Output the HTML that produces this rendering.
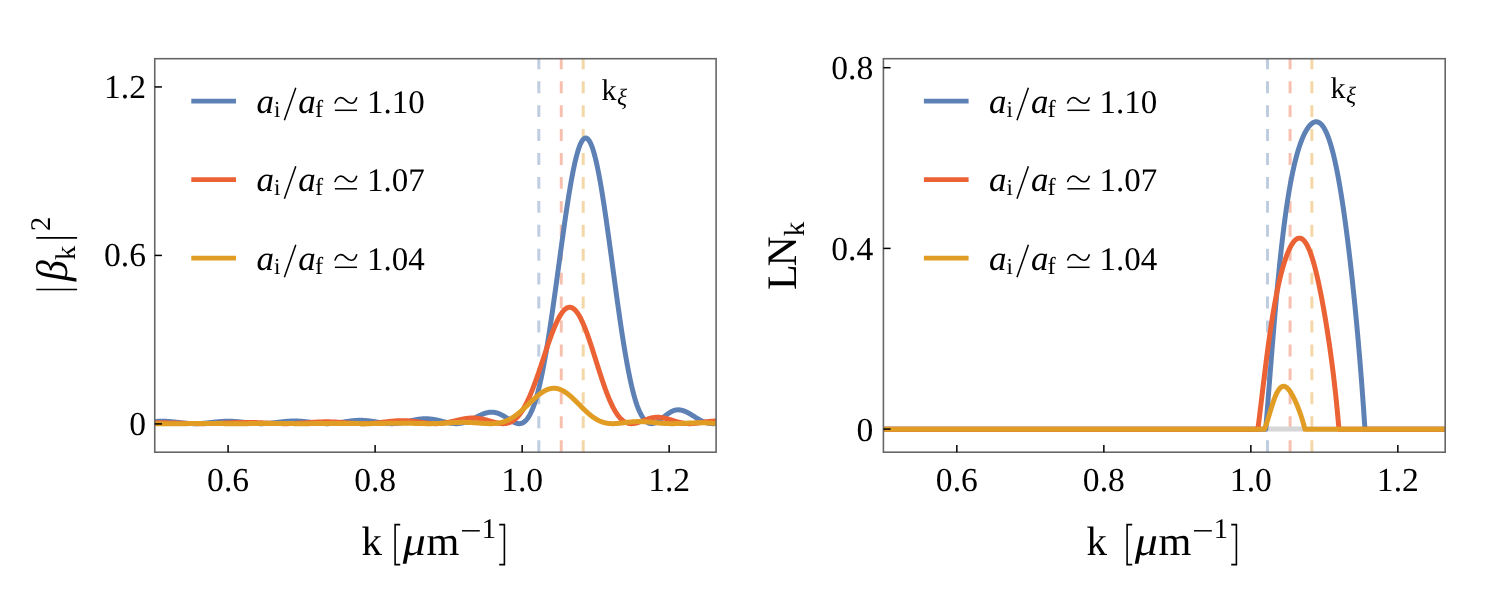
<!DOCTYPE html>
<html><head><meta charset="utf-8"><title>plot</title>
<style>
html,body{margin:0;padding:0;background:#fff;}
body{width:1495px;height:601px;overflow:hidden;}
svg{display:block;will-change:transform;}
text{font-family:"Liberation Serif",serif;fill:#000;text-rendering:geometricPrecision;}
.it{font-style:italic;}
</style></head><body>
<svg width="1495" height="601" viewBox="0 0 1495 601">
<rect x="0" y="0" width="1495" height="601" fill="#fff"/>
<defs><clipPath id="cl"><rect x="154.75" y="58.70" width="561.35" height="393.50"/></clipPath><clipPath id="cr"><rect x="883.40" y="58.70" width="561.80" height="393.50"/></clipPath></defs>
<g clip-path="url(#cl)" fill="none">
<line x1="538.80" y1="452.10" x2="538.80" y2="53.70" stroke="#5E81B5" stroke-opacity="0.4" stroke-width="3.0" stroke-dasharray="11.9 12.03"/>
<line x1="561.25" y1="452.10" x2="561.25" y2="53.70" stroke="#EB6235" stroke-opacity="0.4" stroke-width="3.0" stroke-dasharray="11.9 12.03"/>
<line x1="583.20" y1="452.10" x2="583.20" y2="53.70" stroke="#E19C24" stroke-opacity="0.4" stroke-width="3.0" stroke-dasharray="11.9 12.03"/>
<path d="M154.59,421.55 L154.94,421.53 L155.29,421.50 L155.64,421.48 L156.00,421.46 L156.35,421.44 L156.70,421.42 L157.05,421.40 L157.40,421.38 L157.75,421.36 L158.10,421.35 L158.46,421.33 L158.81,421.32 L159.16,421.31 L159.51,421.30 L159.86,421.29 L160.21,421.28 L160.56,421.28 L160.92,421.27 L161.27,421.27 L161.62,421.26 L161.97,421.26 L162.32,421.26 L162.67,421.27 L163.03,421.27 L163.38,421.27 L163.73,421.28 L164.08,421.29 L164.43,421.30 L164.78,421.31 L165.13,421.32 L165.49,421.33 L165.84,421.34 L166.19,421.36 L166.54,421.37 L166.89,421.39 L167.24,421.41 L167.59,421.43 L167.95,421.45 L168.30,421.47 L168.65,421.50 L169.00,421.52 L169.35,421.55 L169.70,421.57 L170.05,421.60 L170.41,421.63 L170.76,421.66 L171.11,421.69 L171.46,421.72 L171.81,421.75 L172.16,421.78 L172.51,421.81 L172.87,421.85 L173.22,421.88 L173.57,421.92 L173.92,421.95 L174.27,421.99 L174.62,422.03 L174.97,422.06 L175.33,422.10 L175.68,422.14 L176.03,422.18 L176.38,422.22 L176.73,422.26 L177.08,422.30 L177.43,422.34 L177.79,422.38 L178.14,422.42 L178.49,422.45 L178.84,422.49 L179.19,422.53 L179.54,422.57 L179.90,422.61 L180.25,422.65 L180.60,422.69 L180.95,422.73 L181.30,422.77 L181.65,422.81 L182.00,422.85 L182.36,422.88 L182.71,422.92 L183.06,422.96 L183.41,422.99 L183.76,423.03 L184.11,423.06 L184.46,423.10 L184.82,423.13 L185.17,423.16 L185.52,423.19 L185.87,423.22 L186.22,423.25 L186.57,423.28 L186.92,423.31 L187.28,423.34 L187.63,423.37 L187.98,423.39 L188.33,423.42 L188.68,423.44 L189.03,423.46 L189.38,423.48 L189.74,423.50 L190.09,423.52 L190.44,423.54 L190.79,423.55 L191.14,423.57 L191.49,423.58 L191.84,423.60 L192.20,423.61 L192.55,423.62 L192.90,423.63 L193.25,423.63 L193.60,423.64 L193.95,423.64 L194.30,423.65 L194.66,423.65 L195.01,423.65 L195.36,423.65 L195.71,423.65 L196.06,423.64 L196.41,423.64 L196.77,423.63 L197.12,423.63 L197.47,423.62 L197.82,423.61 L198.17,423.60 L198.52,423.58 L198.87,423.57 L199.23,423.56 L199.58,423.54 L199.93,423.52 L200.28,423.50 L200.63,423.48 L200.98,423.46 L201.33,423.44 L201.69,423.42 L202.04,423.39 L202.39,423.37 L202.74,423.34 L203.09,423.32 L203.44,423.29 L203.79,423.26 L204.15,423.23 L204.50,423.20 L204.85,423.17 L205.20,423.13 L205.55,423.10 L205.90,423.06 L206.25,423.03 L206.61,422.99 L206.96,422.96 L207.31,422.92 L207.66,422.88 L208.01,422.85 L208.36,422.81 L208.71,422.77 L209.07,422.73 L209.42,422.69 L209.77,422.65 L210.12,422.61 L210.47,422.57 L210.82,422.53 L211.18,422.49 L211.53,422.45 L211.88,422.41 L212.23,422.37 L212.58,422.33 L212.93,422.29 L213.28,422.25 L213.64,422.21 L213.99,422.17 L214.34,422.14 L214.69,422.10 L215.04,422.06 L215.39,422.02 L215.74,421.98 L216.10,421.95 L216.45,421.91 L216.80,421.88 L217.15,421.84 L217.50,421.81 L217.85,421.77 L218.20,421.74 L218.56,421.71 L218.91,421.68 L219.26,421.65 L219.61,421.62 L219.96,421.59 L220.31,421.56 L220.66,421.53 L221.02,421.51 L221.37,421.48 L221.72,421.46 L222.07,421.44 L222.42,421.42 L222.77,421.40 L223.12,421.38 L223.48,421.36 L223.83,421.34 L224.18,421.33 L224.53,421.32 L224.88,421.30 L225.23,421.29 L225.58,421.28 L225.94,421.27 L226.29,421.27 L226.64,421.26 L226.99,421.25 L227.34,421.25 L227.69,421.25 L228.05,421.25 L228.40,421.25 L228.75,421.25 L229.10,421.25 L229.45,421.26 L229.80,421.26 L230.15,421.27 L230.51,421.28 L230.86,421.29 L231.21,421.30 L231.56,421.31 L231.91,421.32 L232.26,421.33 L232.61,421.35 L232.97,421.36 L233.32,421.38 L233.67,421.40 L234.02,421.42 L234.37,421.44 L234.72,421.46 L235.07,421.48 L235.43,421.51 L235.78,421.53 L236.13,421.56 L236.48,421.59 L236.83,421.61 L237.18,421.64 L237.53,421.67 L237.89,421.71 L238.24,421.74 L238.59,421.77 L238.94,421.80 L239.29,421.84 L239.64,421.87 L239.99,421.91 L240.35,421.94 L240.70,421.98 L241.05,422.02 L241.40,422.06 L241.75,422.09 L242.10,422.13 L242.45,422.17 L242.81,422.21 L243.16,422.25 L243.51,422.29 L243.86,422.33 L244.21,422.37 L244.56,422.41 L244.92,422.45 L245.27,422.49 L245.62,422.53 L245.97,422.57 L246.32,422.61 L246.67,422.65 L247.02,422.69 L247.38,422.73 L247.73,422.77 L248.08,422.81 L248.43,422.85 L248.78,422.89 L249.13,422.93 L249.48,422.96 L249.84,423.00 L250.19,423.03 L250.54,423.07 L250.89,423.10 L251.24,423.14 L251.59,423.17 L251.94,423.20 L252.30,423.23 L252.65,423.26 L253.00,423.29 L253.35,423.32 L253.70,423.35 L254.05,423.38 L254.40,423.40 L254.76,423.43 L255.11,423.45 L255.46,423.47 L255.81,423.49 L256.16,423.51 L256.51,423.53 L256.86,423.55 L257.22,423.56 L257.57,423.58 L257.92,423.59 L258.27,423.60 L258.62,423.61 L258.97,423.62 L259.32,423.63 L259.68,423.64 L260.03,423.64 L260.38,423.65 L260.73,423.65 L261.08,423.65 L261.43,423.65 L261.79,423.65 L262.14,423.64 L262.49,423.64 L262.84,423.63 L263.19,423.63 L263.54,423.62 L263.89,423.61 L264.25,423.60 L264.60,423.58 L264.95,423.57 L265.30,423.55 L265.65,423.53 L266.00,423.52 L266.35,423.50 L266.71,423.48 L267.06,423.45 L267.41,423.43 L267.76,423.41 L268.11,423.38 L268.46,423.35 L268.81,423.32 L269.17,423.30 L269.52,423.26 L269.87,423.23 L270.22,423.20 L270.57,423.17 L270.92,423.13 L271.27,423.10 L271.63,423.06 L271.98,423.03 L272.33,422.99 L272.68,422.95 L273.03,422.91 L273.38,422.87 L273.73,422.83 L274.09,422.79 L274.44,422.75 L274.79,422.71 L275.14,422.67 L275.49,422.62 L275.84,422.58 L276.20,422.54 L276.55,422.49 L276.90,422.45 L277.25,422.41 L277.60,422.36 L277.95,422.32 L278.30,422.28 L278.66,422.23 L279.01,422.19 L279.36,422.15 L279.71,422.10 L280.06,422.06 L280.41,422.02 L280.76,421.97 L281.12,421.93 L281.47,421.89 L281.82,421.85 L282.17,421.81 L282.52,421.77 L282.87,421.73 L283.22,421.69 L283.58,421.65 L283.93,421.62 L284.28,421.58 L284.63,421.55 L284.98,421.51 L285.33,421.48 L285.68,421.45 L286.04,421.41 L286.39,421.38 L286.74,421.35 L287.09,421.32 L287.44,421.30 L287.79,421.27 L288.14,421.25 L288.50,421.22 L288.85,421.20 L289.20,421.18 L289.55,421.16 L289.90,421.14 L290.25,421.12 L290.60,421.11 L290.96,421.09 L291.31,421.08 L291.66,421.07 L292.01,421.06 L292.36,421.05 L292.71,421.04 L293.07,421.04 L293.42,421.03 L293.77,421.03 L294.12,421.03 L294.47,421.03 L294.82,421.03 L295.17,421.03 L295.53,421.04 L295.88,421.04 L296.23,421.05 L296.58,421.05 L296.93,421.06 L297.28,421.07 L297.63,421.08 L297.99,421.10 L298.34,421.11 L298.69,421.13 L299.04,421.14 L299.39,421.16 L299.74,421.18 L300.09,421.20 L300.45,421.23 L300.80,421.25 L301.15,421.28 L301.50,421.30 L301.85,421.33 L302.20,421.36 L302.55,421.39 L302.91,421.42 L303.26,421.45 L303.61,421.48 L303.96,421.52 L304.31,421.55 L304.66,421.59 L305.01,421.63 L305.37,421.66 L305.72,421.70 L306.07,421.74 L306.42,421.78 L306.77,421.82 L307.12,421.86 L307.47,421.91 L307.83,421.95 L308.18,421.99 L308.53,422.04 L308.88,422.08 L309.23,422.12 L309.58,422.17 L309.94,422.21 L310.29,422.26 L310.64,422.30 L310.99,422.35 L311.34,422.39 L311.69,422.44 L312.04,422.48 L312.40,422.53 L312.75,422.57 L313.10,422.62 L313.45,422.66 L313.80,422.70 L314.15,422.75 L314.50,422.79 L314.86,422.83 L315.21,422.87 L315.56,422.92 L315.91,422.96 L316.26,423.00 L316.61,423.03 L316.96,423.07 L317.32,423.11 L317.67,423.15 L318.02,423.18 L318.37,423.22 L318.72,423.25 L319.07,423.28 L319.42,423.31 L319.78,423.34 L320.13,423.37 L320.48,423.40 L320.83,423.43 L321.18,423.45 L321.53,423.47 L321.88,423.50 L322.24,423.52 L322.59,423.54 L322.94,423.56 L323.29,423.57 L323.64,423.59 L323.99,423.60 L324.35,423.61 L324.70,423.62 L325.05,423.63 L325.40,423.64 L325.75,423.64 L326.10,423.65 L326.45,423.65 L326.81,423.65 L327.16,423.65 L327.51,423.65 L327.86,423.64 L328.21,423.63 L328.56,423.63 L328.91,423.62 L329.27,423.61 L329.62,423.59 L329.97,423.58 L330.32,423.56 L330.67,423.54 L331.02,423.52 L331.37,423.50 L331.73,423.48 L332.08,423.46 L332.43,423.43 L332.78,423.40 L333.13,423.37 L333.48,423.34 L333.83,423.31 L334.19,423.28 L334.54,423.24 L334.89,423.21 L335.24,423.17 L335.59,423.13 L335.94,423.09 L336.29,423.05 L336.65,423.01 L337.00,422.96 L337.35,422.92 L337.70,422.87 L338.05,422.83 L338.40,422.78 L338.75,422.73 L339.11,422.68 L339.46,422.63 L339.81,422.58 L340.16,422.53 L340.51,422.48 L340.86,422.43 L341.22,422.37 L341.57,422.32 L341.92,422.27 L342.27,422.21 L342.62,422.16 L342.97,422.10 L343.32,422.05 L343.68,421.99 L344.03,421.94 L344.38,421.88 L344.73,421.83 L345.08,421.77 L345.43,421.72 L345.78,421.66 L346.14,421.61 L346.49,421.56 L346.84,421.50 L347.19,421.45 L347.54,421.40 L347.89,421.35 L348.24,421.30 L348.60,421.25 L348.95,421.20 L349.30,421.15 L349.65,421.10 L350.00,421.05 L350.35,421.01 L350.70,420.96 L351.06,420.92 L351.41,420.88 L351.76,420.84 L352.11,420.80 L352.46,420.76 L352.81,420.72 L353.16,420.69 L353.52,420.65 L353.87,420.62 L354.22,420.59 L354.57,420.56 L354.92,420.53 L355.27,420.51 L355.62,420.48 L355.98,420.46 L356.33,420.44 L356.68,420.42 L357.03,420.40 L357.38,420.38 L357.73,420.37 L358.09,420.36 L358.44,420.35 L358.79,420.34 L359.14,420.33 L359.49,420.33 L359.84,420.32 L360.19,420.32 L360.55,420.32 L360.90,420.33 L361.25,420.33 L361.60,420.34 L361.95,420.35 L362.30,420.36 L362.65,420.37 L363.01,420.38 L363.36,420.40 L363.71,420.42 L364.06,420.44 L364.41,420.46 L364.76,420.48 L365.11,420.51 L365.47,420.54 L365.82,420.56 L366.17,420.59 L366.52,420.62 L366.87,420.66 L367.22,420.69 L367.57,420.73 L367.93,420.76 L368.28,420.80 L368.63,420.84 L368.98,420.88 L369.33,420.93 L369.68,420.97 L370.03,421.02 L370.39,421.06 L370.74,421.11 L371.09,421.16 L371.44,421.21 L371.79,421.26 L372.14,421.31 L372.49,421.37 L372.85,421.42 L373.20,421.47 L373.55,421.53 L373.90,421.59 L374.25,421.64 L374.60,421.70 L374.96,421.76 L375.31,421.81 L375.66,421.87 L376.01,421.93 L376.36,421.99 L376.71,422.04 L377.06,422.10 L377.42,422.16 L377.77,422.22 L378.12,422.28 L378.47,422.33 L378.82,422.39 L379.17,422.45 L379.52,422.50 L379.88,422.56 L380.23,422.61 L380.58,422.67 L380.93,422.72 L381.28,422.77 L381.63,422.82 L381.98,422.88 L382.34,422.92 L382.69,422.97 L383.04,423.02 L383.39,423.07 L383.74,423.11 L384.09,423.15 L384.44,423.20 L384.80,423.24 L385.15,423.27 L385.50,423.31 L385.85,423.35 L386.20,423.38 L386.55,423.41 L386.90,423.44 L387.26,423.47 L387.61,423.50 L387.96,423.52 L388.31,423.54 L388.66,423.56 L389.01,423.58 L389.37,423.60 L389.72,423.61 L390.07,423.62 L390.42,423.63 L390.77,423.64 L391.12,423.65 L391.47,423.65 L391.83,423.65 L392.18,423.65 L392.53,423.64 L392.88,423.64 L393.23,423.63 L393.58,423.62 L393.93,423.60 L394.29,423.59 L394.64,423.57 L394.99,423.55 L395.34,423.53 L395.69,423.50 L396.04,423.48 L396.39,423.45 L396.75,423.41 L397.10,423.38 L397.45,423.34 L397.80,423.30 L398.15,423.26 L398.50,423.22 L398.85,423.18 L399.21,423.13 L399.56,423.08 L399.91,423.03 L400.26,422.98 L400.61,422.92 L400.96,422.87 L401.31,422.81 L401.67,422.75 L402.02,422.68 L402.37,422.62 L402.72,422.56 L403.07,422.49 L403.42,422.42 L403.77,422.35 L404.13,422.28 L404.48,422.21 L404.83,422.14 L405.18,422.06 L405.53,421.99 L405.88,421.91 L406.24,421.83 L406.59,421.76 L406.94,421.68 L407.29,421.60 L407.64,421.52 L407.99,421.44 L408.34,421.36 L408.70,421.28 L409.05,421.20 L409.40,421.12 L409.75,421.04 L410.10,420.96 L410.45,420.88 L410.80,420.80 L411.16,420.72 L411.51,420.64 L411.86,420.56 L412.21,420.48 L412.56,420.40 L412.91,420.33 L413.26,420.25 L413.62,420.17 L413.97,420.10 L414.32,420.03 L414.67,419.96 L415.02,419.89 L415.37,419.82 L415.72,419.75 L416.08,419.68 L416.43,419.62 L416.78,419.56 L417.13,419.50 L417.48,419.44 L417.83,419.38 L418.18,419.32 L418.54,419.27 L418.89,419.22 L419.24,419.17 L419.59,419.12 L419.94,419.08 L420.29,419.04 L420.64,419.00 L421.00,418.96 L421.35,418.93 L421.70,418.90 L422.05,418.87 L422.40,418.84 L422.75,418.82 L423.11,418.79 L423.46,418.78 L423.81,418.76 L424.16,418.75 L424.51,418.74 L424.86,418.73 L425.21,418.72 L425.57,418.72 L425.92,418.72 L426.27,418.73 L426.62,418.74 L426.97,418.75 L427.32,418.76 L427.67,418.77 L428.03,418.79 L428.38,418.82 L428.73,418.84 L429.08,418.87 L429.43,418.90 L429.78,418.93 L430.13,418.96 L430.49,419.00 L430.84,419.04 L431.19,419.09 L431.54,419.13 L431.89,419.17 L432.24,419.22 L432.59,419.27 L432.95,419.32 L433.30,419.38 L433.65,419.43 L434.00,419.49 L434.35,419.56 L434.70,419.62 L435.05,419.68 L435.41,419.75 L435.76,419.82 L436.11,419.89 L436.46,419.97 L436.81,420.04 L437.16,420.12 L437.52,420.20 L437.87,420.28 L438.22,420.36 L438.57,420.44 L438.92,420.52 L439.27,420.61 L439.62,420.69 L439.98,420.78 L440.33,420.87 L440.68,420.95 L441.03,421.04 L441.38,421.13 L441.73,421.22 L442.08,421.31 L442.44,421.40 L442.79,421.49 L443.14,421.58 L443.49,421.66 L443.84,421.75 L444.19,421.84 L444.54,421.93 L444.90,422.01 L445.25,422.10 L445.60,422.18 L445.95,422.26 L446.30,422.35 L446.65,422.43 L447.00,422.50 L447.36,422.58 L447.71,422.66 L448.06,422.73 L448.41,422.80 L448.76,422.87 L449.11,422.94 L449.46,423.00 L449.82,423.06 L450.17,423.12 L450.52,423.18 L450.87,423.24 L451.22,423.29 L451.57,423.34 L451.92,423.38 L452.28,423.42 L452.63,423.46 L452.98,423.50 L453.33,423.53 L453.68,423.56 L454.03,423.58 L454.39,423.60 L454.74,423.62 L455.09,423.63 L455.44,423.64 L455.79,423.65 L456.14,423.65 L456.49,423.65 L456.85,423.64 L457.20,423.63 L457.55,423.61 L457.90,423.59 L458.25,423.57 L458.60,423.54 L458.95,423.51 L459.31,423.47 L459.66,423.43 L460.01,423.38 L460.36,423.33 L460.71,423.28 L461.06,423.22 L461.41,423.15 L461.77,423.09 L462.12,423.01 L462.47,422.94 L462.82,422.85 L463.17,422.77 L463.52,422.68 L463.87,422.58 L464.23,422.48 L464.58,422.38 L464.93,422.27 L465.28,422.16 L465.63,422.05 L465.98,421.93 L466.33,421.81 L466.69,421.68 L467.04,421.55 L467.39,421.42 L467.74,421.28 L468.09,421.14 L468.44,420.99 L468.79,420.85 L469.15,420.70 L469.50,420.54 L469.85,420.39 L470.20,420.23 L470.55,420.07 L470.90,419.90 L471.26,419.74 L471.61,419.57 L471.96,419.40 L472.31,419.23 L472.66,419.05 L473.01,418.88 L473.36,418.70 L473.72,418.53 L474.07,418.35 L474.42,418.17 L474.77,417.99 L475.12,417.81 L475.47,417.63 L475.82,417.45 L476.18,417.27 L476.53,417.09 L476.88,416.91 L477.23,416.73 L477.58,416.55 L477.93,416.37 L478.28,416.19 L478.64,416.02 L478.99,415.85 L479.34,415.68 L479.69,415.51 L480.04,415.34 L480.39,415.17 L480.74,415.01 L481.10,414.85 L481.45,414.69 L481.80,414.54 L482.15,414.39 L482.50,414.24 L482.85,414.10 L483.20,413.96 L483.56,413.83 L483.91,413.70 L484.26,413.57 L484.61,413.45 L484.96,413.33 L485.31,413.22 L485.66,413.11 L486.02,413.01 L486.37,412.91 L486.72,412.82 L487.07,412.73 L487.42,412.65 L487.77,412.58 L488.13,412.51 L488.48,412.45 L488.83,412.39 L489.18,412.34 L489.53,412.30 L489.88,412.26 L490.23,412.23 L490.59,412.21 L490.94,412.19 L491.29,412.18 L491.64,412.18 L491.99,412.18 L492.34,412.19 L492.69,412.21 L493.05,412.23 L493.40,412.27 L493.75,412.30 L494.10,412.35 L494.45,412.40 L494.80,412.47 L495.15,412.53 L495.51,412.61 L495.86,412.69 L496.21,412.78 L496.56,412.87 L496.91,412.97 L497.26,413.08 L497.61,413.20 L497.97,413.31 L498.32,413.44 L498.67,413.57 L499.02,413.71 L499.37,413.85 L499.72,414.00 L500.07,414.16 L500.43,414.32 L500.78,414.48 L501.13,414.66 L501.48,414.83 L501.83,415.02 L502.18,415.20 L502.54,415.40 L502.89,415.59 L503.24,415.79 L503.59,416.00 L503.94,416.21 L504.29,416.42 L504.64,416.63 L505.00,416.85 L505.35,417.07 L505.70,417.29 L506.05,417.52 L506.40,417.74 L506.75,417.97 L507.10,418.20 L507.46,418.43 L507.81,418.66 L508.16,418.89 L508.51,419.11 L508.86,419.34 L509.21,419.57 L509.56,419.79 L509.92,420.02 L510.27,420.24 L510.62,420.45 L510.97,420.67 L511.32,420.88 L511.67,421.08 L512.02,421.29 L512.38,421.48 L512.73,421.67 L513.08,421.86 L513.43,422.04 L513.78,422.21 L514.13,422.38 L514.48,422.53 L514.84,422.68 L515.19,422.82 L515.54,422.95 L515.89,423.07 L516.24,423.19 L516.59,423.29 L516.94,423.37 L517.30,423.45 L517.65,423.52 L518.00,423.57 L518.35,423.61 L518.70,423.64 L519.05,423.65 L519.41,423.65 L519.76,423.63 L520.11,423.60 L520.46,423.55 L520.81,423.48 L521.16,423.40 L521.51,423.30 L521.87,423.18 L522.22,423.04 L522.57,422.89 L522.92,422.72 L523.27,422.52 L523.62,422.31 L523.97,422.07 L524.33,421.82 L524.68,421.54 L525.03,421.24 L525.38,420.92 L525.73,420.57 L526.08,420.20 L526.43,419.81 L526.79,419.40 L527.14,418.96 L527.49,418.50 L527.84,418.01 L528.19,417.49 L528.54,416.95 L528.89,416.39 L529.25,415.80 L529.60,415.18 L529.95,414.53 L530.30,413.86 L530.65,413.16 L531.00,412.43 L531.35,411.68 L531.71,410.90 L532.06,410.09 L532.41,409.25 L532.76,408.38 L533.11,407.48 L533.46,406.56 L533.81,405.61 L534.17,404.62 L534.52,403.59 L534.87,402.52 L535.22,401.43 L535.57,400.30 L535.92,399.15 L536.28,397.96 L536.63,396.74 L536.98,395.48 L537.33,394.20 L537.68,392.88 L538.03,391.53 L538.38,390.15 L538.74,388.74 L539.09,387.30 L539.44,385.82 L539.79,384.31 L540.14,382.77 L540.49,381.20 L540.84,379.60 L541.20,377.97 L541.55,376.30 L541.90,374.61 L542.25,372.88 L542.60,371.12 L542.95,369.34 L543.30,367.52 L543.66,365.67 L544.01,363.80 L544.36,361.89 L544.71,359.96 L545.06,358.00 L545.41,356.01 L545.76,353.99 L546.12,351.95 L546.47,349.88 L546.82,347.78 L547.17,345.66 L547.52,343.51 L547.87,341.34 L548.22,339.14 L548.58,336.92 L548.93,334.68 L549.28,332.41 L549.63,330.13 L549.98,327.82 L550.33,325.49 L550.69,323.14 L551.04,320.77 L551.39,318.38 L551.74,315.98 L552.09,313.56 L552.44,311.12 L552.79,308.67 L553.15,306.20 L553.50,303.72 L553.85,301.22 L554.20,298.72 L554.55,296.20 L554.90,293.67 L555.25,291.13 L555.61,288.58 L555.96,286.02 L556.31,283.46 L556.66,280.89 L557.01,278.31 L557.36,275.73 L557.71,273.15 L558.07,270.56 L558.42,267.97 L558.77,265.39 L559.12,262.80 L559.47,260.21 L559.82,257.62 L560.17,255.04 L560.53,252.46 L560.88,249.89 L561.23,247.32 L561.58,244.76 L561.93,242.21 L562.28,239.67 L562.63,237.14 L562.99,234.62 L563.34,232.11 L563.69,229.61 L564.04,227.13 L564.39,224.66 L564.74,222.21 L565.09,219.78 L565.45,217.37 L565.80,214.97 L566.15,212.60 L566.50,210.24 L566.85,207.91 L567.20,205.60 L567.56,203.32 L567.91,201.06 L568.26,198.82 L568.61,196.62 L568.96,194.44 L569.31,192.29 L569.66,190.17 L570.02,188.08 L570.37,186.02 L570.72,184.00 L571.07,182.01 L571.42,180.05 L571.77,178.13 L572.12,176.25 L572.48,174.40 L572.83,172.59 L573.18,170.82 L573.53,169.08 L573.88,167.39 L574.23,165.74 L574.58,164.13 L574.94,162.56 L575.29,161.04 L575.64,159.56 L575.99,158.12 L576.34,156.73 L576.69,155.38 L577.04,154.09 L577.40,152.83 L577.75,151.63 L578.10,150.47 L578.45,149.37 L578.80,148.31 L579.15,147.30 L579.50,146.34 L579.86,145.43 L580.21,144.57 L580.56,143.77 L580.91,143.01 L581.26,142.31 L581.61,141.66 L581.96,141.06 L582.32,140.52 L582.67,140.03 L583.02,139.59 L583.37,139.21 L583.72,138.88 L584.07,138.60 L584.43,138.38 L584.78,138.21 L585.13,138.10 L585.48,138.04 L585.83,138.04 L586.18,138.09 L586.53,138.20 L586.89,138.36 L587.24,138.57 L587.59,138.84 L587.94,139.16 L588.29,139.54 L588.64,139.97 L588.99,140.45 L589.35,140.99 L589.70,141.58 L590.05,142.22 L590.40,142.92 L590.75,143.67 L591.10,144.47 L591.45,145.32 L591.81,146.23 L592.16,147.18 L592.51,148.19 L592.86,149.24 L593.21,150.35 L593.56,151.50 L593.91,152.70 L594.27,153.95 L594.62,155.25 L594.97,156.60 L595.32,157.99 L595.67,159.42 L596.02,160.90 L596.37,162.43 L596.73,164.00 L597.08,165.61 L597.43,167.26 L597.78,168.96 L598.13,170.69 L598.48,172.47 L598.83,174.28 L599.19,176.14 L599.54,178.03 L599.89,179.96 L600.24,181.92 L600.59,183.92 L600.94,185.95 L601.30,188.01 L601.65,190.11 L602.00,192.24 L602.35,194.40 L602.70,196.59 L603.05,198.81 L603.40,201.05 L603.76,203.32 L604.11,205.62 L604.46,207.94 L604.81,210.29 L605.16,212.66 L605.51,215.05 L605.86,217.46 L606.22,219.89 L606.57,222.34 L606.92,224.80 L607.27,227.29 L607.62,229.78 L607.97,232.30 L608.32,234.82 L608.68,237.36 L609.03,239.91 L609.38,242.48 L609.73,245.05 L610.08,247.63 L610.43,250.21 L610.78,252.81 L611.14,255.40 L611.49,258.01 L611.84,260.61 L612.19,263.22 L612.54,265.83 L612.89,268.44 L613.24,271.05 L613.60,273.66 L613.95,276.26 L614.30,278.87 L614.65,281.46 L615.00,284.06 L615.35,286.64 L615.71,289.22 L616.06,291.79 L616.41,294.35 L616.76,296.90 L617.11,299.44 L617.46,301.97 L617.81,304.48 L618.17,306.99 L618.52,309.47 L618.87,311.95 L619.22,314.40 L619.57,316.85 L619.92,319.27 L620.27,321.67 L620.63,324.06 L620.98,326.43 L621.33,328.77 L621.68,331.10 L622.03,333.40 L622.38,335.68 L622.73,337.94 L623.09,340.18 L623.44,342.39 L623.79,344.57 L624.14,346.73 L624.49,348.87 L624.84,350.98 L625.19,353.06 L625.55,355.12 L625.90,357.14 L626.25,359.14 L626.60,361.11 L626.95,363.05 L627.30,364.97 L627.65,366.85 L628.01,368.70 L628.36,370.52 L628.71,372.31 L629.06,374.07 L629.41,375.80 L629.76,377.50 L630.11,379.17 L630.47,380.80 L630.82,382.40 L631.17,383.97 L631.52,385.51 L631.87,387.01 L632.22,388.49 L632.58,389.93 L632.93,391.33 L633.28,392.71 L633.63,394.05 L633.98,395.36 L634.33,396.63 L634.68,397.88 L635.04,399.09 L635.39,400.27 L635.74,401.41 L636.09,402.52 L636.44,403.60 L636.79,404.65 L637.14,405.65 L637.50,406.58 L637.85,407.50 L638.20,408.38 L638.55,409.24 L638.90,410.08 L639.25,410.88 L639.60,411.66 L639.96,412.42 L640.31,413.15 L640.66,413.85 L641.01,414.52 L641.36,415.17 L641.71,415.79 L642.06,416.39 L642.42,416.96 L642.77,417.51 L643.12,418.03 L643.47,418.53 L643.82,419.00 L644.17,419.44 L644.52,419.86 L644.88,420.26 L645.23,420.63 L645.58,420.98 L645.93,421.31 L646.28,421.61 L646.63,421.89 L646.98,422.15 L647.34,422.39 L647.69,422.60 L648.04,422.80 L648.39,422.97 L648.74,423.12 L649.09,423.25 L649.45,423.36 L649.80,423.46 L650.15,423.53 L650.50,423.59 L650.85,423.63 L651.20,423.65 L651.55,423.65 L651.91,423.64 L652.26,423.61 L652.61,423.56 L652.96,423.50 L653.31,423.43 L653.66,423.34 L654.01,423.24 L654.37,423.12 L654.72,422.99 L655.07,422.85 L655.42,422.70 L655.77,422.54 L656.12,422.37 L656.47,422.18 L656.83,421.99 L657.18,421.79 L657.53,421.58 L657.88,421.36 L658.23,421.13 L658.58,420.90 L658.93,420.66 L659.29,420.42 L659.64,420.16 L659.99,419.91 L660.34,419.65 L660.69,419.38 L661.04,419.11 L661.39,418.84 L661.75,418.57 L662.10,418.29 L662.45,418.02 L662.80,417.74 L663.15,417.46 L663.50,417.18 L663.86,416.90 L664.21,416.62 L664.56,416.34 L664.91,416.06 L665.26,415.79 L665.61,415.52 L665.96,415.25 L666.32,414.98 L666.67,414.71 L667.02,414.45 L667.37,414.20 L667.72,413.94 L668.07,413.70 L668.42,413.45 L668.78,413.22 L669.13,412.98 L669.48,412.76 L669.83,412.54 L670.18,412.32 L670.53,412.12 L670.88,411.91 L671.24,411.72 L671.59,411.53 L671.94,411.36 L672.29,411.18 L672.64,411.02 L672.99,410.87 L673.34,410.72 L673.70,410.58 L674.05,410.47 L674.40,410.37 L674.75,410.27 L675.10,410.19 L675.45,410.12 L675.80,410.05 L676.16,410.00 L676.51,409.95 L676.86,409.91 L677.21,409.88 L677.56,409.86 L677.91,409.85 L678.26,409.85 L678.62,409.85 L678.97,409.87 L679.32,409.89 L679.67,409.92 L680.02,409.96 L680.37,410.01 L680.73,410.07 L681.08,410.13 L681.43,410.20 L681.78,410.28 L682.13,410.37 L682.48,410.47 L682.83,410.57 L683.19,410.68 L683.54,410.80 L683.89,410.92 L684.24,411.05 L684.59,411.18 L684.94,411.33 L685.29,411.48 L685.65,411.63 L686.00,411.79 L686.35,411.95 L686.70,412.12 L687.05,412.30 L687.40,412.48 L687.75,412.66 L688.11,412.85 L688.46,413.04 L688.81,413.23 L689.16,413.43 L689.51,413.63 L689.86,413.84 L690.21,414.05 L690.57,414.26 L690.92,414.47 L691.27,414.68 L691.62,414.90 L691.97,415.12 L692.32,415.33 L692.67,415.55 L693.03,415.77 L693.38,415.99 L693.73,416.21 L694.08,416.44 L694.43,416.66 L694.78,416.88 L695.13,417.10 L695.49,417.31 L695.84,417.53 L696.19,417.75 L696.54,417.96 L696.89,418.18 L697.24,418.39 L697.60,418.60 L697.95,418.80 L698.30,419.01 L698.65,419.21 L699.00,419.41 L699.35,419.60 L699.70,419.80 L700.06,419.98 L700.41,420.17 L700.76,420.35 L701.11,420.53 L701.46,420.70 L701.81,420.87 L702.16,421.04 L702.52,421.20 L702.87,421.35 L703.22,421.51 L703.57,421.65 L703.92,421.80 L704.27,421.93 L704.62,422.07 L704.98,422.19 L705.33,422.32 L705.68,422.43 L706.03,422.54 L706.38,422.65 L706.73,422.75 L707.08,422.85 L707.44,422.94 L707.79,423.02 L708.14,423.10 L708.49,423.18 L708.84,423.25 L709.19,423.31 L709.54,423.37 L709.90,423.42 L710.25,423.47 L710.60,423.51 L710.95,423.54 L711.30,423.57 L711.65,423.60 L712.00,423.62 L712.36,423.63 L712.71,423.64 L713.06,423.65 L713.41,423.65 L713.76,423.64 L714.11,423.63 L714.47,423.62 L714.82,423.60 L715.17,423.58 L715.52,423.55 L715.87,423.52 L716.22,423.48 L716.57,423.44" stroke="#5E81B5" stroke-width="5.0" stroke-linejoin="round"/>
<path d="M154.59,422.77 L154.94,422.77 L155.29,422.77 L155.64,422.76 L156.00,422.76 L156.35,422.76 L156.70,422.76 L157.05,422.76 L157.40,422.76 L157.75,422.76 L158.10,422.76 L158.46,422.76 L158.81,422.77 L159.16,422.77 L159.51,422.77 L159.86,422.77 L160.21,422.77 L160.56,422.77 L160.92,422.78 L161.27,422.78 L161.62,422.78 L161.97,422.79 L162.32,422.79 L162.67,422.79 L163.03,422.80 L163.38,422.80 L163.73,422.81 L164.08,422.81 L164.43,422.82 L164.78,422.82 L165.13,422.83 L165.49,422.83 L165.84,422.84 L166.19,422.85 L166.54,422.85 L166.89,422.86 L167.24,422.86 L167.59,422.87 L167.95,422.88 L168.30,422.89 L168.65,422.89 L169.00,422.90 L169.35,422.91 L169.70,422.92 L170.05,422.93 L170.41,422.93 L170.76,422.94 L171.11,422.95 L171.46,422.96 L171.81,422.97 L172.16,422.98 L172.51,422.99 L172.87,423.00 L173.22,423.01 L173.57,423.02 L173.92,423.03 L174.27,423.04 L174.62,423.05 L174.97,423.06 L175.33,423.07 L175.68,423.08 L176.03,423.09 L176.38,423.10 L176.73,423.11 L177.08,423.12 L177.43,423.13 L177.79,423.15 L178.14,423.16 L178.49,423.17 L178.84,423.18 L179.19,423.19 L179.54,423.20 L179.90,423.21 L180.25,423.22 L180.60,423.23 L180.95,423.25 L181.30,423.26 L181.65,423.27 L182.00,423.28 L182.36,423.29 L182.71,423.30 L183.06,423.31 L183.41,423.32 L183.76,423.33 L184.11,423.34 L184.46,423.36 L184.82,423.37 L185.17,423.38 L185.52,423.39 L185.87,423.40 L186.22,423.41 L186.57,423.42 L186.92,423.43 L187.28,423.44 L187.63,423.45 L187.98,423.46 L188.33,423.47 L188.68,423.47 L189.03,423.48 L189.38,423.49 L189.74,423.50 L190.09,423.51 L190.44,423.52 L190.79,423.53 L191.14,423.53 L191.49,423.54 L191.84,423.55 L192.20,423.56 L192.55,423.56 L192.90,423.57 L193.25,423.58 L193.60,423.58 L193.95,423.59 L194.30,423.59 L194.66,423.60 L195.01,423.61 L195.36,423.61 L195.71,423.62 L196.06,423.62 L196.41,423.62 L196.77,423.63 L197.12,423.63 L197.47,423.63 L197.82,423.64 L198.17,423.64 L198.52,423.64 L198.87,423.64 L199.23,423.65 L199.58,423.65 L199.93,423.65 L200.28,423.65 L200.63,423.65 L200.98,423.65 L201.33,423.65 L201.69,423.65 L202.04,423.65 L202.39,423.65 L202.74,423.65 L203.09,423.64 L203.44,423.64 L203.79,423.64 L204.15,423.64 L204.50,423.63 L204.85,423.63 L205.20,423.63 L205.55,423.62 L205.90,423.62 L206.25,423.61 L206.61,423.61 L206.96,423.60 L207.31,423.60 L207.66,423.59 L208.01,423.58 L208.36,423.58 L208.71,423.57 L209.07,423.56 L209.42,423.55 L209.77,423.55 L210.12,423.54 L210.47,423.53 L210.82,423.52 L211.18,423.51 L211.53,423.50 L211.88,423.49 L212.23,423.48 L212.58,423.47 L212.93,423.46 L213.28,423.45 L213.64,423.44 L213.99,423.43 L214.34,423.42 L214.69,423.40 L215.04,423.39 L215.39,423.38 L215.74,423.37 L216.10,423.35 L216.45,423.34 L216.80,423.33 L217.15,423.32 L217.50,423.30 L217.85,423.29 L218.20,423.27 L218.56,423.26 L218.91,423.25 L219.26,423.23 L219.61,423.22 L219.96,423.20 L220.31,423.19 L220.66,423.17 L221.02,423.16 L221.37,423.14 L221.72,423.13 L222.07,423.11 L222.42,423.10 L222.77,423.08 L223.12,423.07 L223.48,423.05 L223.83,423.04 L224.18,423.02 L224.53,423.00 L224.88,422.99 L225.23,422.97 L225.58,422.96 L225.94,422.94 L226.29,422.93 L226.64,422.91 L226.99,422.90 L227.34,422.88 L227.69,422.87 L228.05,422.85 L228.40,422.84 L228.75,422.82 L229.10,422.81 L229.45,422.79 L229.80,422.78 L230.15,422.76 L230.51,422.75 L230.86,422.74 L231.21,422.72 L231.56,422.71 L231.91,422.70 L232.26,422.68 L232.61,422.67 L232.97,422.66 L233.32,422.64 L233.67,422.63 L234.02,422.62 L234.37,422.61 L234.72,422.60 L235.07,422.58 L235.43,422.57 L235.78,422.56 L236.13,422.55 L236.48,422.54 L236.83,422.53 L237.18,422.52 L237.53,422.51 L237.89,422.51 L238.24,422.50 L238.59,422.49 L238.94,422.48 L239.29,422.47 L239.64,422.47 L239.99,422.46 L240.35,422.45 L240.70,422.45 L241.05,422.44 L241.40,422.44 L241.75,422.43 L242.10,422.43 L242.45,422.42 L242.81,422.42 L243.16,422.42 L243.51,422.42 L243.86,422.41 L244.21,422.41 L244.56,422.41 L244.92,422.41 L245.27,422.41 L245.62,422.41 L245.97,422.41 L246.32,422.41 L246.67,422.41 L247.02,422.41 L247.38,422.41 L247.73,422.42 L248.08,422.42 L248.43,422.42 L248.78,422.43 L249.13,422.43 L249.48,422.44 L249.84,422.44 L250.19,422.45 L250.54,422.45 L250.89,422.46 L251.24,422.46 L251.59,422.47 L251.94,422.48 L252.30,422.49 L252.65,422.50 L253.00,422.50 L253.35,422.51 L253.70,422.52 L254.05,422.53 L254.40,422.54 L254.76,422.55 L255.11,422.56 L255.46,422.57 L255.81,422.59 L256.16,422.60 L256.51,422.61 L256.86,422.62 L257.22,422.64 L257.57,422.65 L257.92,422.66 L258.27,422.68 L258.62,422.69 L258.97,422.70 L259.32,422.72 L259.68,422.73 L260.03,422.75 L260.38,422.76 L260.73,422.78 L261.08,422.79 L261.43,422.81 L261.79,422.83 L262.14,422.84 L262.49,422.86 L262.84,422.87 L263.19,422.89 L263.54,422.91 L263.89,422.92 L264.25,422.94 L264.60,422.96 L264.95,422.98 L265.30,422.99 L265.65,423.01 L266.00,423.03 L266.35,423.04 L266.71,423.06 L267.06,423.08 L267.41,423.10 L267.76,423.11 L268.11,423.13 L268.46,423.15 L268.81,423.16 L269.17,423.18 L269.52,423.20 L269.87,423.21 L270.22,423.23 L270.57,423.25 L270.92,423.26 L271.27,423.28 L271.63,423.30 L271.98,423.31 L272.33,423.33 L272.68,423.34 L273.03,423.36 L273.38,423.37 L273.73,423.39 L274.09,423.40 L274.44,423.41 L274.79,423.43 L275.14,423.44 L275.49,423.45 L275.84,423.47 L276.20,423.48 L276.55,423.49 L276.90,423.50 L277.25,423.51 L277.60,423.53 L277.95,423.54 L278.30,423.55 L278.66,423.56 L279.01,423.57 L279.36,423.57 L279.71,423.58 L280.06,423.59 L280.41,423.60 L280.76,423.60 L281.12,423.61 L281.47,423.62 L281.82,423.62 L282.17,423.63 L282.52,423.63 L282.87,423.64 L283.22,423.64 L283.58,423.64 L283.93,423.65 L284.28,423.65 L284.63,423.65 L284.98,423.65 L285.33,423.65 L285.68,423.65 L286.04,423.65 L286.39,423.65 L286.74,423.65 L287.09,423.64 L287.44,423.64 L287.79,423.64 L288.14,423.63 L288.50,423.63 L288.85,423.62 L289.20,423.62 L289.55,423.61 L289.90,423.60 L290.25,423.60 L290.60,423.59 L290.96,423.58 L291.31,423.57 L291.66,423.56 L292.01,423.55 L292.36,423.54 L292.71,423.53 L293.07,423.51 L293.42,423.50 L293.77,423.49 L294.12,423.48 L294.47,423.46 L294.82,423.45 L295.17,423.43 L295.53,423.42 L295.88,423.40 L296.23,423.38 L296.58,423.37 L296.93,423.35 L297.28,423.33 L297.63,423.31 L297.99,423.30 L298.34,423.28 L298.69,423.26 L299.04,423.24 L299.39,423.22 L299.74,423.20 L300.09,423.18 L300.45,423.16 L300.80,423.13 L301.15,423.11 L301.50,423.09 L301.85,423.07 L302.20,423.05 L302.55,423.02 L302.91,423.00 L303.26,422.98 L303.61,422.95 L303.96,422.93 L304.31,422.91 L304.66,422.88 L305.01,422.86 L305.37,422.83 L305.72,422.81 L306.07,422.79 L306.42,422.76 L306.77,422.74 L307.12,422.71 L307.47,422.69 L307.83,422.66 L308.18,422.64 L308.53,422.62 L308.88,422.59 L309.23,422.57 L309.58,422.54 L309.94,422.52 L310.29,422.50 L310.64,422.47 L310.99,422.45 L311.34,422.43 L311.69,422.40 L312.04,422.38 L312.40,422.36 L312.75,422.34 L313.10,422.31 L313.45,422.29 L313.80,422.27 L314.15,422.25 L314.50,422.23 L314.86,422.21 L315.21,422.19 L315.56,422.17 L315.91,422.15 L316.26,422.13 L316.61,422.11 L316.96,422.10 L317.32,422.08 L317.67,422.06 L318.02,422.05 L318.37,422.03 L318.72,422.01 L319.07,422.00 L319.42,421.99 L319.78,421.97 L320.13,421.96 L320.48,421.95 L320.83,421.94 L321.18,421.92 L321.53,421.91 L321.88,421.90 L322.24,421.90 L322.59,421.89 L322.94,421.88 L323.29,421.87 L323.64,421.87 L323.99,421.86 L324.35,421.86 L324.70,421.85 L325.05,421.85 L325.40,421.84 L325.75,421.84 L326.10,421.84 L326.45,421.84 L326.81,421.84 L327.16,421.84 L327.51,421.84 L327.86,421.84 L328.21,421.85 L328.56,421.85 L328.91,421.86 L329.27,421.86 L329.62,421.87 L329.97,421.87 L330.32,421.88 L330.67,421.89 L331.02,421.90 L331.37,421.91 L331.73,421.92 L332.08,421.93 L332.43,421.94 L332.78,421.95 L333.13,421.97 L333.48,421.98 L333.83,421.99 L334.19,422.01 L334.54,422.02 L334.89,422.04 L335.24,422.06 L335.59,422.07 L335.94,422.09 L336.29,422.11 L336.65,422.13 L337.00,422.15 L337.35,422.17 L337.70,422.19 L338.05,422.21 L338.40,422.23 L338.75,422.26 L339.11,422.28 L339.46,422.30 L339.81,422.33 L340.16,422.35 L340.51,422.37 L340.86,422.40 L341.22,422.42 L341.57,422.45 L341.92,422.47 L342.27,422.50 L342.62,422.53 L342.97,422.55 L343.32,422.58 L343.68,422.61 L344.03,422.63 L344.38,422.66 L344.73,422.69 L345.08,422.71 L345.43,422.74 L345.78,422.77 L346.14,422.80 L346.49,422.82 L346.84,422.85 L347.19,422.88 L347.54,422.91 L347.89,422.93 L348.24,422.96 L348.60,422.99 L348.95,423.01 L349.30,423.04 L349.65,423.06 L350.00,423.09 L350.35,423.12 L350.70,423.14 L351.06,423.17 L351.41,423.19 L351.76,423.21 L352.11,423.24 L352.46,423.26 L352.81,423.28 L353.16,423.31 L353.52,423.33 L353.87,423.35 L354.22,423.37 L354.57,423.39 L354.92,423.41 L355.27,423.43 L355.62,423.45 L355.98,423.47 L356.33,423.48 L356.68,423.50 L357.03,423.51 L357.38,423.53 L357.73,423.54 L358.09,423.56 L358.44,423.57 L358.79,423.58 L359.14,423.59 L359.49,423.60 L359.84,423.61 L360.19,423.62 L360.55,423.62 L360.90,423.63 L361.25,423.64 L361.60,423.64 L361.95,423.64 L362.30,423.65 L362.65,423.65 L363.01,423.65 L363.36,423.65 L363.71,423.65 L364.06,423.65 L364.41,423.64 L364.76,423.64 L365.11,423.63 L365.47,423.63 L365.82,423.62 L366.17,423.61 L366.52,423.60 L366.87,423.59 L367.22,423.58 L367.57,423.57 L367.93,423.55 L368.28,423.54 L368.63,423.53 L368.98,423.51 L369.33,423.49 L369.68,423.47 L370.03,423.45 L370.39,423.43 L370.74,423.41 L371.09,423.39 L371.44,423.37 L371.79,423.34 L372.14,423.32 L372.49,423.29 L372.85,423.27 L373.20,423.24 L373.55,423.21 L373.90,423.18 L374.25,423.15 L374.60,423.12 L374.96,423.09 L375.31,423.06 L375.66,423.02 L376.01,422.99 L376.36,422.95 L376.71,422.92 L377.06,422.88 L377.42,422.85 L377.77,422.81 L378.12,422.77 L378.47,422.73 L378.82,422.70 L379.17,422.66 L379.52,422.62 L379.88,422.58 L380.23,422.54 L380.58,422.50 L380.93,422.46 L381.28,422.41 L381.63,422.37 L381.98,422.33 L382.34,422.29 L382.69,422.25 L383.04,422.20 L383.39,422.16 L383.74,422.12 L384.09,422.08 L384.44,422.04 L384.80,421.99 L385.15,421.95 L385.50,421.91 L385.85,421.87 L386.20,421.83 L386.55,421.78 L386.90,421.74 L387.26,421.70 L387.61,421.66 L387.96,421.62 L388.31,421.58 L388.66,421.54 L389.01,421.50 L389.37,421.47 L389.72,421.43 L390.07,421.39 L390.42,421.35 L390.77,421.32 L391.12,421.28 L391.47,421.25 L391.83,421.21 L392.18,421.18 L392.53,421.15 L392.88,421.12 L393.23,421.09 L393.58,421.06 L393.93,421.03 L394.29,421.00 L394.64,420.98 L394.99,420.95 L395.34,420.93 L395.69,420.90 L396.04,420.88 L396.39,420.86 L396.75,420.84 L397.10,420.82 L397.45,420.80 L397.80,420.79 L398.15,420.77 L398.50,420.76 L398.85,420.74 L399.21,420.73 L399.56,420.72 L399.91,420.71 L400.26,420.71 L400.61,420.70 L400.96,420.69 L401.31,420.69 L401.67,420.69 L402.02,420.69 L402.37,420.69 L402.72,420.69 L403.07,420.69 L403.42,420.70 L403.77,420.71 L404.13,420.71 L404.48,420.72 L404.83,420.73 L405.18,420.74 L405.53,420.76 L405.88,420.77 L406.24,420.79 L406.59,420.80 L406.94,420.82 L407.29,420.84 L407.64,420.86 L407.99,420.89 L408.34,420.91 L408.70,420.94 L409.05,420.96 L409.40,420.99 L409.75,421.02 L410.10,421.05 L410.45,421.08 L410.80,421.11 L411.16,421.14 L411.51,421.18 L411.86,421.21 L412.21,421.25 L412.56,421.29 L412.91,421.33 L413.26,421.36 L413.62,421.40 L413.97,421.45 L414.32,421.49 L414.67,421.53 L415.02,421.57 L415.37,421.62 L415.72,421.67 L416.08,421.71 L416.43,421.76 L416.78,421.81 L417.13,421.85 L417.48,421.90 L417.83,421.95 L418.18,422.00 L418.54,422.05 L418.89,422.09 L419.24,422.14 L419.59,422.19 L419.94,422.24 L420.29,422.29 L420.64,422.34 L421.00,422.39 L421.35,422.44 L421.70,422.49 L422.05,422.53 L422.40,422.58 L422.75,422.63 L423.11,422.68 L423.46,422.72 L423.81,422.77 L424.16,422.81 L424.51,422.86 L424.86,422.90 L425.21,422.95 L425.57,422.99 L425.92,423.03 L426.27,423.07 L426.62,423.11 L426.97,423.15 L427.32,423.18 L427.67,423.22 L428.03,423.26 L428.38,423.29 L428.73,423.32 L429.08,423.35 L429.43,423.38 L429.78,423.41 L430.13,423.44 L430.49,423.47 L430.84,423.49 L431.19,423.51 L431.54,423.53 L431.89,423.55 L432.24,423.57 L432.59,423.59 L432.95,423.60 L433.30,423.61 L433.65,423.62 L434.00,423.63 L434.35,423.64 L434.70,423.65 L435.05,423.65 L435.41,423.65 L435.76,423.65 L436.11,423.65 L436.46,423.64 L436.81,423.64 L437.16,423.63 L437.52,423.62 L437.87,423.60 L438.22,423.59 L438.57,423.57 L438.92,423.55 L439.27,423.53 L439.62,423.51 L439.98,423.48 L440.33,423.46 L440.68,423.43 L441.03,423.40 L441.38,423.36 L441.73,423.33 L442.08,423.29 L442.44,423.25 L442.79,423.21 L443.14,423.17 L443.49,423.12 L443.84,423.08 L444.19,423.03 L444.54,422.98 L444.90,422.93 L445.25,422.87 L445.60,422.82 L445.95,422.76 L446.30,422.70 L446.65,422.64 L447.00,422.57 L447.36,422.51 L447.71,422.44 L448.06,422.38 L448.41,422.31 L448.76,422.24 L449.11,422.17 L449.46,422.10 L449.82,422.02 L450.17,421.95 L450.52,421.87 L450.87,421.79 L451.22,421.72 L451.57,421.64 L451.92,421.56 L452.28,421.48 L452.63,421.40 L452.98,421.32 L453.33,421.23 L453.68,421.15 L454.03,421.07 L454.39,420.98 L454.74,420.90 L455.09,420.82 L455.44,420.73 L455.79,420.65 L456.14,420.56 L456.49,420.48 L456.85,420.40 L457.20,420.31 L457.55,420.23 L457.90,420.15 L458.25,420.06 L458.60,419.98 L458.95,419.90 L459.31,419.82 L459.66,419.74 L460.01,419.66 L460.36,419.59 L460.71,419.51 L461.06,419.43 L461.41,419.36 L461.77,419.29 L462.12,419.21 L462.47,419.14 L462.82,419.08 L463.17,419.01 L463.52,418.94 L463.87,418.88 L464.23,418.82 L464.58,418.76 L464.93,418.70 L465.28,418.64 L465.63,418.59 L465.98,418.54 L466.33,418.49 L466.69,418.44 L467.04,418.40 L467.39,418.35 L467.74,418.31 L468.09,418.28 L468.44,418.24 L468.79,418.21 L469.15,418.18 L469.50,418.15 L469.85,418.13 L470.20,418.10 L470.55,418.09 L470.90,418.07 L471.26,418.06 L471.61,418.05 L471.96,418.04 L472.31,418.03 L472.66,418.03 L473.01,418.03 L473.36,418.04 L473.72,418.04 L474.07,418.06 L474.42,418.07 L474.77,418.08 L475.12,418.10 L475.47,418.13 L475.82,418.15 L476.18,418.18 L476.53,418.21 L476.88,418.24 L477.23,418.28 L477.58,418.32 L477.93,418.36 L478.28,418.41 L478.64,418.46 L478.99,418.51 L479.34,418.56 L479.69,418.62 L480.04,418.68 L480.39,418.74 L480.74,418.81 L481.10,418.86 L481.45,418.92 L481.80,418.99 L482.15,419.05 L482.50,419.12 L482.85,419.19 L483.20,419.26 L483.56,419.34 L483.91,419.42 L484.26,419.49 L484.61,419.58 L484.96,419.66 L485.31,419.74 L485.66,419.83 L486.02,419.92 L486.37,420.01 L486.72,420.10 L487.07,420.20 L487.42,420.29 L487.77,420.39 L488.13,420.48 L488.48,420.58 L488.83,420.68 L489.18,420.78 L489.53,420.88 L489.88,420.98 L490.23,421.08 L490.59,421.18 L490.94,421.28 L491.29,421.38 L491.64,421.49 L491.99,421.59 L492.34,421.69 L492.69,421.79 L493.05,421.89 L493.40,421.98 L493.75,422.08 L494.10,422.18 L494.45,422.27 L494.80,422.36 L495.15,422.45 L495.51,422.54 L495.86,422.63 L496.21,422.71 L496.56,422.79 L496.91,422.87 L497.26,422.95 L497.61,423.02 L497.97,423.09 L498.32,423.16 L498.67,423.23 L499.02,423.29 L499.37,423.34 L499.72,423.39 L500.07,423.44 L500.43,423.48 L500.78,423.52 L501.13,423.56 L501.48,423.59 L501.83,423.61 L502.18,423.63 L502.54,423.64 L502.89,423.65 L503.24,423.65 L503.59,423.65 L503.94,423.63 L504.29,423.62 L504.64,423.59 L505.00,423.56 L505.35,423.53 L505.70,423.48 L506.05,423.43 L506.40,423.37 L506.75,423.30 L507.10,423.23 L507.46,423.15 L507.81,423.06 L508.16,422.96 L508.51,422.85 L508.86,422.73 L509.21,422.61 L509.56,422.48 L509.92,422.33 L510.27,422.18 L510.62,422.02 L510.97,421.85 L511.32,421.68 L511.67,421.49 L512.02,421.29 L512.38,421.08 L512.73,420.86 L513.08,420.64 L513.43,420.40 L513.78,420.15 L514.13,419.89 L514.48,419.62 L514.84,419.35 L515.19,419.06 L515.54,418.76 L515.89,418.45 L516.24,418.13 L516.59,417.79 L516.94,417.45 L517.30,417.10 L517.65,416.73 L518.00,416.34 L518.35,415.94 L518.70,415.53 L519.05,415.10 L519.41,414.66 L519.76,414.21 L520.11,413.75 L520.46,413.27 L520.81,412.78 L521.16,412.28 L521.51,411.77 L521.87,411.24 L522.22,410.70 L522.57,410.14 L522.92,409.58 L523.27,409.00 L523.62,408.41 L523.97,407.80 L524.33,407.19 L524.68,406.56 L525.03,405.91 L525.38,405.26 L525.73,404.59 L526.08,403.91 L526.43,403.22 L526.79,402.51 L527.14,401.79 L527.49,401.06 L527.84,400.32 L528.19,399.57 L528.54,398.80 L528.89,398.02 L529.25,397.23 L529.60,396.43 L529.95,395.62 L530.30,394.80 L530.65,393.96 L531.00,393.12 L531.35,392.26 L531.71,391.40 L532.06,390.52 L532.41,389.63 L532.76,388.74 L533.11,387.83 L533.46,386.92 L533.81,385.99 L534.17,385.06 L534.52,384.12 L534.87,383.17 L535.22,382.21 L535.57,381.24 L535.92,380.27 L536.28,379.29 L536.63,378.30 L536.98,377.30 L537.33,376.30 L537.68,375.29 L538.03,374.28 L538.38,373.26 L538.74,372.24 L539.09,371.21 L539.44,370.17 L539.79,369.14 L540.14,368.10 L540.49,367.05 L540.84,366.00 L541.20,364.95 L541.55,363.90 L541.90,362.85 L542.25,361.79 L542.60,360.73 L542.95,359.68 L543.30,358.62 L543.66,357.56 L544.01,356.50 L544.36,355.44 L544.71,354.39 L545.06,353.33 L545.41,352.28 L545.76,351.23 L546.12,350.18 L546.47,349.14 L546.82,348.10 L547.17,347.07 L547.52,346.03 L547.87,345.01 L548.22,343.99 L548.58,342.97 L548.93,341.96 L549.28,340.96 L549.63,339.97 L549.98,338.98 L550.33,338.00 L550.69,337.03 L551.04,336.07 L551.39,335.12 L551.74,334.17 L552.09,333.24 L552.44,332.32 L552.79,331.41 L553.15,330.51 L553.50,329.62 L553.85,328.74 L554.20,327.88 L554.55,327.02 L554.90,326.19 L555.25,325.36 L555.61,324.55 L555.96,323.76 L556.31,322.98 L556.66,322.21 L557.01,321.46 L557.36,320.73 L557.71,320.01 L558.07,319.31 L558.42,318.62 L558.77,317.96 L559.12,317.31 L559.47,316.68 L559.82,316.06 L560.17,315.47 L560.53,314.89 L560.88,314.33 L561.23,313.80 L561.58,313.28 L561.93,312.78 L562.28,312.30 L562.63,311.85 L562.99,311.41 L563.34,311.00 L563.69,310.60 L564.04,310.23 L564.39,309.88 L564.74,309.55 L565.09,309.24 L565.45,308.95 L565.80,308.69 L566.15,308.45 L566.50,308.23 L566.85,308.03 L567.20,307.86 L567.56,307.71 L567.91,307.58 L568.26,307.48 L568.61,307.40 L568.96,307.34 L569.31,307.31 L569.66,307.29 L570.02,307.31 L570.37,307.34 L570.72,307.40 L571.07,307.48 L571.42,307.59 L571.77,307.72 L572.12,307.87 L572.48,308.04 L572.83,308.24 L573.18,308.46 L573.53,308.71 L573.88,308.97 L574.23,309.26 L574.58,309.58 L574.94,309.91 L575.29,310.27 L575.64,310.65 L575.99,311.05 L576.34,311.48 L576.69,311.92 L577.04,312.39 L577.40,312.88 L577.75,313.39 L578.10,313.92 L578.45,314.47 L578.80,315.04 L579.15,315.63 L579.50,316.25 L579.86,316.88 L580.21,317.53 L580.56,318.20 L580.91,318.89 L581.26,319.59 L581.61,320.32 L581.96,321.06 L582.32,321.82 L582.67,322.60 L583.02,323.39 L583.37,324.21 L583.72,325.03 L584.07,325.87 L584.43,326.73 L584.78,327.60 L585.13,328.49 L585.48,329.39 L585.83,330.31 L586.18,331.24 L586.53,332.18 L586.89,333.13 L587.24,334.10 L587.59,335.07 L587.94,336.06 L588.29,337.06 L588.64,338.07 L588.99,339.09 L589.35,340.12 L589.70,341.15 L590.05,342.20 L590.40,343.25 L590.75,344.31 L591.10,345.38 L591.45,346.45 L591.81,347.54 L592.16,348.62 L592.51,349.71 L592.86,350.81 L593.21,351.91 L593.56,353.01 L593.91,354.12 L594.27,355.23 L594.62,356.34 L594.97,357.46 L595.32,358.57 L595.67,359.69 L596.02,360.80 L596.37,361.92 L596.73,363.04 L597.08,364.15 L597.43,365.27 L597.78,366.38 L598.13,367.49 L598.48,368.59 L598.83,369.70 L599.19,370.80 L599.54,371.89 L599.89,372.99 L600.24,374.07 L600.59,375.15 L600.94,376.23 L601.30,377.30 L601.65,378.36 L602.00,379.42 L602.35,380.47 L602.70,381.51 L603.05,382.55 L603.40,383.57 L603.76,384.59 L604.11,385.60 L604.46,386.59 L604.81,387.58 L605.16,388.56 L605.51,389.53 L605.86,390.49 L606.22,391.44 L606.57,392.37 L606.92,393.30 L607.27,394.21 L607.62,395.11 L607.97,396.00 L608.32,396.87 L608.68,397.74 L609.03,398.59 L609.38,399.42 L609.73,400.25 L610.08,401.06 L610.43,401.86 L610.78,402.64 L611.14,403.41 L611.49,404.16 L611.84,404.90 L612.19,405.63 L612.54,406.34 L612.89,407.04 L613.24,407.72 L613.60,408.39 L613.95,409.04 L614.30,409.68 L614.65,410.30 L615.00,410.91 L615.35,411.50 L615.71,412.07 L616.06,412.64 L616.41,413.18 L616.76,413.71 L617.11,414.23 L617.46,414.73 L617.81,415.22 L618.17,415.69 L618.52,416.14 L618.87,416.59 L619.22,417.01 L619.57,417.42 L619.92,417.82 L620.27,418.20 L620.63,418.56 L620.98,418.91 L621.33,419.24 L621.68,419.56 L622.03,419.86 L622.38,420.15 L622.73,420.43 L623.09,420.70 L623.44,420.96 L623.79,421.20 L624.14,421.43 L624.49,421.65 L624.84,421.85 L625.19,422.04 L625.55,422.22 L625.90,422.39 L626.25,422.55 L626.60,422.70 L626.95,422.83 L627.30,422.96 L627.65,423.07 L628.01,423.17 L628.36,423.27 L628.71,423.35 L629.06,423.42 L629.41,423.48 L629.76,423.53 L630.11,423.57 L630.47,423.61 L630.82,423.63 L631.17,423.64 L631.52,423.65 L631.87,423.65 L632.22,423.64 L632.58,423.62 L632.93,423.59 L633.28,423.56 L633.63,423.52 L633.98,423.47 L634.33,423.42 L634.68,423.36 L635.04,423.29 L635.39,423.22 L635.74,423.14 L636.09,423.06 L636.44,422.97 L636.79,422.88 L637.14,422.78 L637.50,422.68 L637.85,422.58 L638.20,422.47 L638.55,422.35 L638.90,422.24 L639.25,422.12 L639.60,422.00 L639.96,421.87 L640.31,421.75 L640.66,421.62 L641.01,421.49 L641.36,421.36 L641.71,421.23 L642.06,421.10 L642.42,420.96 L642.77,420.83 L643.12,420.70 L643.47,420.56 L643.82,420.43 L644.17,420.30 L644.52,420.16 L644.88,420.03 L645.23,419.90 L645.58,419.77 L645.93,419.65 L646.28,419.52 L646.63,419.40 L646.98,419.27 L647.34,419.16 L647.69,419.04 L648.04,418.92 L648.39,418.81 L648.74,418.70 L649.09,418.60 L649.45,418.49 L649.80,418.40 L650.15,418.30 L650.50,418.21 L650.85,418.12 L651.20,418.03 L651.55,417.95 L651.91,417.88 L652.26,417.80 L652.61,417.73 L652.96,417.67 L653.31,417.61 L653.66,417.55 L654.01,417.50 L654.37,417.45 L654.72,417.41 L655.07,417.37 L655.42,417.34 L655.77,417.31 L656.12,417.28 L656.47,417.26 L656.83,417.25 L657.18,417.24 L657.53,417.24 L657.88,417.25 L658.23,417.25 L658.58,417.27 L658.93,417.29 L659.29,417.31 L659.64,417.34 L659.99,417.37 L660.34,417.40 L660.69,417.44 L661.04,417.49 L661.39,417.53 L661.75,417.59 L662.10,417.64 L662.45,417.70 L662.80,417.76 L663.15,417.83 L663.50,417.90 L663.86,417.97 L664.21,418.04 L664.56,418.12 L664.91,418.20 L665.26,418.29 L665.61,418.37 L665.96,418.46 L666.32,418.55 L666.67,418.64 L667.02,418.74 L667.37,418.84 L667.72,418.94 L668.07,419.04 L668.42,419.14 L668.78,419.24 L669.13,419.35 L669.48,419.45 L669.83,419.56 L670.18,419.67 L670.53,419.78 L670.88,419.89 L671.24,420.00 L671.59,420.11 L671.94,420.22 L672.29,420.33 L672.64,420.44 L672.99,420.55 L673.34,420.66 L673.70,420.77 L674.05,420.87 L674.40,420.98 L674.75,421.09 L675.10,421.19 L675.45,421.30 L675.80,421.40 L676.16,421.50 L676.51,421.61 L676.86,421.70 L677.21,421.80 L677.56,421.90 L677.91,421.99 L678.26,422.08 L678.62,422.17 L678.97,422.26 L679.32,422.35 L679.67,422.43 L680.02,422.51 L680.37,422.59 L680.73,422.67 L681.08,422.74 L681.43,422.81 L681.78,422.88 L682.13,422.95 L682.48,423.01 L682.83,423.07 L683.19,423.13 L683.54,423.18 L683.89,423.23 L684.24,423.28 L684.59,423.33 L684.94,423.37 L685.29,423.41 L685.65,423.44 L686.00,423.48 L686.35,423.51 L686.70,423.54 L687.05,423.56 L687.40,423.58 L687.75,423.60 L688.11,423.62 L688.46,423.63 L688.81,423.64 L689.16,423.64 L689.51,423.65 L689.86,423.65 L690.21,423.65 L690.57,423.64 L690.92,423.64 L691.27,423.63 L691.62,423.62 L691.97,423.60 L692.32,423.58 L692.67,423.56 L693.03,423.54 L693.38,423.52 L693.73,423.49 L694.08,423.46 L694.43,423.43 L694.78,423.40 L695.13,423.37 L695.49,423.33 L695.84,423.29 L696.19,423.25 L696.54,423.21 L696.89,423.17 L697.24,423.13 L697.60,423.08 L697.95,423.04 L698.30,422.99 L698.65,422.94 L699.00,422.89 L699.35,422.84 L699.70,422.79 L700.06,422.74 L700.41,422.69 L700.76,422.63 L701.11,422.58 L701.46,422.53 L701.81,422.47 L702.16,422.42 L702.52,422.37 L702.87,422.31 L703.22,422.26 L703.57,422.21 L703.92,422.15 L704.27,422.10 L704.62,422.05 L704.98,422.00 L705.33,421.95 L705.68,421.90 L706.03,421.85 L706.38,421.80 L706.73,421.76 L707.08,421.71 L707.44,421.67 L707.79,421.62 L708.14,421.58 L708.49,421.54 L708.84,421.50 L709.19,421.46 L709.54,421.43 L709.90,421.39 L710.25,421.36 L710.60,421.33 L710.95,421.30 L711.30,421.27 L711.65,421.24 L712.00,421.22 L712.36,421.20 L712.71,421.18 L713.06,421.16 L713.41,421.14 L713.76,421.12 L714.11,421.11 L714.47,421.10 L714.82,421.09 L715.17,421.08 L715.52,421.08 L715.87,421.07 L716.22,421.07 L716.57,421.08" stroke="#EB6235" stroke-width="5.0" stroke-linejoin="round"/>
<path d="M154.59,423.63 L154.94,423.63 L155.29,423.63 L155.64,423.63 L156.00,423.63 L156.35,423.64 L156.70,423.64 L157.05,423.64 L157.40,423.64 L157.75,423.64 L158.10,423.64 L158.46,423.64 L158.81,423.64 L159.16,423.64 L159.51,423.64 L159.86,423.64 L160.21,423.64 L160.56,423.64 L160.92,423.64 L161.27,423.64 L161.62,423.64 L161.97,423.64 L162.32,423.64 L162.67,423.64 L163.03,423.64 L163.38,423.64 L163.73,423.65 L164.08,423.65 L164.43,423.65 L164.78,423.65 L165.13,423.65 L165.49,423.65 L165.84,423.65 L166.19,423.65 L166.54,423.65 L166.89,423.65 L167.24,423.65 L167.59,423.65 L167.95,423.65 L168.30,423.65 L168.65,423.65 L169.00,423.65 L169.35,423.65 L169.70,423.65 L170.05,423.65 L170.41,423.65 L170.76,423.65 L171.11,423.65 L171.46,423.65 L171.81,423.65 L172.16,423.65 L172.51,423.65 L172.87,423.65 L173.22,423.65 L173.57,423.65 L173.92,423.65 L174.27,423.65 L174.62,423.65 L174.97,423.65 L175.33,423.65 L175.68,423.65 L176.03,423.65 L176.38,423.65 L176.73,423.65 L177.08,423.65 L177.43,423.65 L177.79,423.65 L178.14,423.65 L178.49,423.65 L178.84,423.64 L179.19,423.64 L179.54,423.64 L179.90,423.64 L180.25,423.64 L180.60,423.64 L180.95,423.64 L181.30,423.64 L181.65,423.64 L182.00,423.64 L182.36,423.64 L182.71,423.64 L183.06,423.64 L183.41,423.64 L183.76,423.64 L184.11,423.64 L184.46,423.63 L184.82,423.63 L185.17,423.63 L185.52,423.63 L185.87,423.63 L186.22,423.63 L186.57,423.63 L186.92,423.63 L187.28,423.63 L187.63,423.63 L187.98,423.63 L188.33,423.62 L188.68,423.62 L189.03,423.62 L189.38,423.62 L189.74,423.62 L190.09,423.62 L190.44,423.62 L190.79,423.62 L191.14,423.62 L191.49,423.62 L191.84,423.62 L192.20,423.61 L192.55,423.61 L192.90,423.61 L193.25,423.61 L193.60,423.61 L193.95,423.61 L194.30,423.61 L194.66,423.61 L195.01,423.61 L195.36,423.61 L195.71,423.61 L196.06,423.60 L196.41,423.60 L196.77,423.60 L197.12,423.60 L197.47,423.60 L197.82,423.60 L198.17,423.60 L198.52,423.60 L198.87,423.60 L199.23,423.60 L199.58,423.60 L199.93,423.60 L200.28,423.60 L200.63,423.60 L200.98,423.60 L201.33,423.59 L201.69,423.59 L202.04,423.59 L202.39,423.59 L202.74,423.59 L203.09,423.59 L203.44,423.59 L203.79,423.59 L204.15,423.59 L204.50,423.59 L204.85,423.59 L205.20,423.59 L205.55,423.59 L205.90,423.59 L206.25,423.59 L206.61,423.59 L206.96,423.59 L207.31,423.59 L207.66,423.59 L208.01,423.59 L208.36,423.59 L208.71,423.59 L209.07,423.59 L209.42,423.59 L209.77,423.59 L210.12,423.59 L210.47,423.59 L210.82,423.59 L211.18,423.59 L211.53,423.59 L211.88,423.59 L212.23,423.59 L212.58,423.60 L212.93,423.60 L213.28,423.60 L213.64,423.60 L213.99,423.60 L214.34,423.60 L214.69,423.60 L215.04,423.60 L215.39,423.60 L215.74,423.60 L216.10,423.60 L216.45,423.60 L216.80,423.60 L217.15,423.60 L217.50,423.61 L217.85,423.61 L218.20,423.61 L218.56,423.61 L218.91,423.61 L219.26,423.61 L219.61,423.61 L219.96,423.61 L220.31,423.61 L220.66,423.61 L221.02,423.62 L221.37,423.62 L221.72,423.62 L222.07,423.62 L222.42,423.62 L222.77,423.62 L223.12,423.62 L223.48,423.62 L223.83,423.62 L224.18,423.63 L224.53,423.63 L224.88,423.63 L225.23,423.63 L225.58,423.63 L225.94,423.63 L226.29,423.63 L226.64,423.63 L226.99,423.63 L227.34,423.63 L227.69,423.64 L228.05,423.64 L228.40,423.64 L228.75,423.64 L229.10,423.64 L229.45,423.64 L229.80,423.64 L230.15,423.64 L230.51,423.64 L230.86,423.64 L231.21,423.64 L231.56,423.64 L231.91,423.64 L232.26,423.65 L232.61,423.65 L232.97,423.65 L233.32,423.65 L233.67,423.65 L234.02,423.65 L234.37,423.65 L234.72,423.65 L235.07,423.65 L235.43,423.65 L235.78,423.65 L236.13,423.65 L236.48,423.65 L236.83,423.65 L237.18,423.65 L237.53,423.65 L237.89,423.65 L238.24,423.65 L238.59,423.65 L238.94,423.65 L239.29,423.65 L239.64,423.65 L239.99,423.65 L240.35,423.65 L240.70,423.65 L241.05,423.65 L241.40,423.65 L241.75,423.65 L242.10,423.65 L242.45,423.64 L242.81,423.64 L243.16,423.64 L243.51,423.64 L243.86,423.64 L244.21,423.64 L244.56,423.64 L244.92,423.64 L245.27,423.64 L245.62,423.64 L245.97,423.63 L246.32,423.63 L246.67,423.63 L247.02,423.63 L247.38,423.63 L247.73,423.63 L248.08,423.63 L248.43,423.63 L248.78,423.62 L249.13,423.62 L249.48,423.62 L249.84,423.62 L250.19,423.62 L250.54,423.62 L250.89,423.61 L251.24,423.61 L251.59,423.61 L251.94,423.61 L252.30,423.61 L252.65,423.61 L253.00,423.60 L253.35,423.60 L253.70,423.60 L254.05,423.60 L254.40,423.60 L254.76,423.59 L255.11,423.59 L255.46,423.59 L255.81,423.59 L256.16,423.59 L256.51,423.58 L256.86,423.58 L257.22,423.58 L257.57,423.58 L257.92,423.58 L258.27,423.58 L258.62,423.57 L258.97,423.57 L259.32,423.57 L259.68,423.57 L260.03,423.57 L260.38,423.56 L260.73,423.56 L261.08,423.56 L261.43,423.56 L261.79,423.56 L262.14,423.56 L262.49,423.55 L262.84,423.55 L263.19,423.55 L263.54,423.55 L263.89,423.55 L264.25,423.55 L264.60,423.55 L264.95,423.54 L265.30,423.54 L265.65,423.54 L266.00,423.54 L266.35,423.54 L266.71,423.54 L267.06,423.54 L267.41,423.54 L267.76,423.54 L268.11,423.54 L268.46,423.53 L268.81,423.53 L269.17,423.53 L269.52,423.53 L269.87,423.53 L270.22,423.53 L270.57,423.53 L270.92,423.53 L271.27,423.53 L271.63,423.53 L271.98,423.53 L272.33,423.53 L272.68,423.53 L273.03,423.53 L273.38,423.53 L273.73,423.53 L274.09,423.53 L274.44,423.53 L274.79,423.53 L275.14,423.53 L275.49,423.53 L275.84,423.54 L276.20,423.54 L276.55,423.54 L276.90,423.54 L277.25,423.54 L277.60,423.54 L277.95,423.54 L278.30,423.54 L278.66,423.54 L279.01,423.54 L279.36,423.55 L279.71,423.55 L280.06,423.55 L280.41,423.55 L280.76,423.55 L281.12,423.55 L281.47,423.56 L281.82,423.56 L282.17,423.56 L282.52,423.56 L282.87,423.56 L283.22,423.56 L283.58,423.57 L283.93,423.57 L284.28,423.57 L284.63,423.57 L284.98,423.57 L285.33,423.58 L285.68,423.58 L286.04,423.58 L286.39,423.58 L286.74,423.59 L287.09,423.59 L287.44,423.59 L287.79,423.59 L288.14,423.59 L288.50,423.60 L288.85,423.60 L289.20,423.60 L289.55,423.60 L289.90,423.60 L290.25,423.61 L290.60,423.61 L290.96,423.61 L291.31,423.61 L291.66,423.61 L292.01,423.62 L292.36,423.62 L292.71,423.62 L293.07,423.62 L293.42,423.62 L293.77,423.63 L294.12,423.63 L294.47,423.63 L294.82,423.63 L295.17,423.63 L295.53,423.63 L295.88,423.64 L296.23,423.64 L296.58,423.64 L296.93,423.64 L297.28,423.64 L297.63,423.64 L297.99,423.64 L298.34,423.64 L298.69,423.65 L299.04,423.65 L299.39,423.65 L299.74,423.65 L300.09,423.65 L300.45,423.65 L300.80,423.65 L301.15,423.65 L301.50,423.65 L301.85,423.65 L302.20,423.65 L302.55,423.65 L302.91,423.65 L303.26,423.65 L303.61,423.65 L303.96,423.65 L304.31,423.65 L304.66,423.65 L305.01,423.65 L305.37,423.65 L305.72,423.64 L306.07,423.64 L306.42,423.64 L306.77,423.64 L307.12,423.64 L307.47,423.64 L307.83,423.64 L308.18,423.63 L308.53,423.63 L308.88,423.63 L309.23,423.63 L309.58,423.63 L309.94,423.62 L310.29,423.62 L310.64,423.62 L310.99,423.62 L311.34,423.61 L311.69,423.61 L312.04,423.61 L312.40,423.61 L312.75,423.60 L313.10,423.60 L313.45,423.60 L313.80,423.59 L314.15,423.59 L314.50,423.59 L314.86,423.58 L315.21,423.58 L315.56,423.58 L315.91,423.57 L316.26,423.57 L316.61,423.57 L316.96,423.56 L317.32,423.56 L317.67,423.56 L318.02,423.55 L318.37,423.55 L318.72,423.54 L319.07,423.54 L319.42,423.54 L319.78,423.53 L320.13,423.53 L320.48,423.52 L320.83,423.52 L321.18,423.52 L321.53,423.51 L321.88,423.51 L322.24,423.51 L322.59,423.50 L322.94,423.50 L323.29,423.49 L323.64,423.49 L323.99,423.49 L324.35,423.48 L324.70,423.48 L325.05,423.48 L325.40,423.47 L325.75,423.47 L326.10,423.46 L326.45,423.46 L326.81,423.46 L327.16,423.45 L327.51,423.45 L327.86,423.45 L328.21,423.45 L328.56,423.44 L328.91,423.44 L329.27,423.44 L329.62,423.43 L329.97,423.43 L330.32,423.43 L330.67,423.43 L331.02,423.43 L331.37,423.42 L331.73,423.42 L332.08,423.42 L332.43,423.42 L332.78,423.42 L333.13,423.42 L333.48,423.41 L333.83,423.41 L334.19,423.41 L334.54,423.41 L334.89,423.41 L335.24,423.41 L335.59,423.41 L335.94,423.41 L336.29,423.41 L336.65,423.41 L337.00,423.41 L337.35,423.41 L337.70,423.41 L338.05,423.41 L338.40,423.41 L338.75,423.41 L339.11,423.42 L339.46,423.42 L339.81,423.42 L340.16,423.42 L340.51,423.42 L340.86,423.42 L341.22,423.42 L341.57,423.43 L341.92,423.43 L342.27,423.43 L342.62,423.43 L342.97,423.44 L343.32,423.44 L343.68,423.44 L344.03,423.45 L344.38,423.45 L344.73,423.45 L345.08,423.45 L345.43,423.46 L345.78,423.46 L346.14,423.47 L346.49,423.47 L346.84,423.47 L347.19,423.48 L347.54,423.48 L347.89,423.48 L348.24,423.49 L348.60,423.49 L348.95,423.50 L349.30,423.50 L349.65,423.51 L350.00,423.51 L350.35,423.51 L350.70,423.52 L351.06,423.52 L351.41,423.53 L351.76,423.53 L352.11,423.54 L352.46,423.54 L352.81,423.54 L353.16,423.55 L353.52,423.55 L353.87,423.56 L354.22,423.56 L354.57,423.57 L354.92,423.57 L355.27,423.58 L355.62,423.58 L355.98,423.58 L356.33,423.59 L356.68,423.59 L357.03,423.60 L357.38,423.60 L357.73,423.60 L358.09,423.61 L358.44,423.61 L358.79,423.61 L359.14,423.62 L359.49,423.62 L359.84,423.62 L360.19,423.63 L360.55,423.63 L360.90,423.63 L361.25,423.63 L361.60,423.64 L361.95,423.64 L362.30,423.64 L362.65,423.64 L363.01,423.64 L363.36,423.64 L363.71,423.65 L364.06,423.65 L364.41,423.65 L364.76,423.65 L365.11,423.65 L365.47,423.65 L365.82,423.65 L366.17,423.65 L366.52,423.65 L366.87,423.65 L367.22,423.65 L367.57,423.65 L367.93,423.65 L368.28,423.65 L368.63,423.64 L368.98,423.64 L369.33,423.64 L369.68,423.64 L370.03,423.64 L370.39,423.63 L370.74,423.63 L371.09,423.63 L371.44,423.62 L371.79,423.62 L372.14,423.62 L372.49,423.61 L372.85,423.61 L373.20,423.60 L373.55,423.60 L373.90,423.60 L374.25,423.59 L374.60,423.59 L374.96,423.58 L375.31,423.57 L375.66,423.57 L376.01,423.56 L376.36,423.56 L376.71,423.55 L377.06,423.54 L377.42,423.54 L377.77,423.53 L378.12,423.52 L378.47,423.52 L378.82,423.51 L379.17,423.50 L379.52,423.50 L379.88,423.49 L380.23,423.48 L380.58,423.47 L380.93,423.47 L381.28,423.46 L381.63,423.45 L381.98,423.44 L382.34,423.44 L382.69,423.43 L383.04,423.42 L383.39,423.41 L383.74,423.40 L384.09,423.40 L384.44,423.39 L384.80,423.38 L385.15,423.37 L385.50,423.36 L385.85,423.35 L386.20,423.35 L386.55,423.34 L386.90,423.33 L387.26,423.32 L387.61,423.32 L387.96,423.31 L388.31,423.30 L388.66,423.29 L389.01,423.29 L389.37,423.28 L389.72,423.27 L390.07,423.26 L390.42,423.26 L390.77,423.25 L391.12,423.24 L391.47,423.24 L391.83,423.23 L392.18,423.23 L392.53,423.22 L392.88,423.22 L393.23,423.21 L393.58,423.20 L393.93,423.20 L394.29,423.20 L394.64,423.19 L394.99,423.19 L395.34,423.18 L395.69,423.18 L396.04,423.18 L396.39,423.17 L396.75,423.17 L397.10,423.17 L397.45,423.17 L397.80,423.16 L398.15,423.16 L398.50,423.16 L398.85,423.16 L399.21,423.16 L399.56,423.16 L399.91,423.16 L400.26,423.16 L400.61,423.16 L400.96,423.16 L401.31,423.16 L401.67,423.16 L402.02,423.16 L402.37,423.16 L402.72,423.17 L403.07,423.17 L403.42,423.17 L403.77,423.18 L404.13,423.18 L404.48,423.18 L404.83,423.19 L405.18,423.19 L405.53,423.20 L405.88,423.20 L406.24,423.21 L406.59,423.21 L406.94,423.22 L407.29,423.22 L407.64,423.23 L407.99,423.24 L408.34,423.24 L408.70,423.25 L409.05,423.26 L409.40,423.26 L409.75,423.27 L410.10,423.28 L410.45,423.29 L410.80,423.30 L411.16,423.30 L411.51,423.31 L411.86,423.32 L412.21,423.33 L412.56,423.34 L412.91,423.35 L413.26,423.36 L413.62,423.37 L413.97,423.38 L414.32,423.38 L414.67,423.39 L415.02,423.40 L415.37,423.41 L415.72,423.42 L416.08,423.43 L416.43,423.44 L416.78,423.45 L417.13,423.46 L417.48,423.47 L417.83,423.48 L418.18,423.49 L418.54,423.50 L418.89,423.50 L419.24,423.51 L419.59,423.52 L419.94,423.53 L420.29,423.54 L420.64,423.55 L421.00,423.55 L421.35,423.56 L421.70,423.57 L422.05,423.58 L422.40,423.58 L422.75,423.59 L423.11,423.60 L423.46,423.60 L423.81,423.61 L424.16,423.61 L424.51,423.62 L424.86,423.62 L425.21,423.63 L425.57,423.63 L425.92,423.64 L426.27,423.64 L426.62,423.64 L426.97,423.64 L427.32,423.65 L427.67,423.65 L428.03,423.65 L428.38,423.65 L428.73,423.65 L429.08,423.65 L429.43,423.65 L429.78,423.65 L430.13,423.65 L430.49,423.64 L430.84,423.64 L431.19,423.64 L431.54,423.63 L431.89,423.63 L432.24,423.63 L432.59,423.62 L432.95,423.61 L433.30,423.61 L433.65,423.60 L434.00,423.59 L434.35,423.59 L434.70,423.58 L435.05,423.57 L435.41,423.56 L435.76,423.55 L436.11,423.54 L436.46,423.53 L436.81,423.52 L437.16,423.51 L437.52,423.49 L437.87,423.48 L438.22,423.47 L438.57,423.45 L438.92,423.44 L439.27,423.43 L439.62,423.41 L439.98,423.40 L440.33,423.38 L440.68,423.36 L441.03,423.35 L441.38,423.33 L441.73,423.31 L442.08,423.29 L442.44,423.28 L442.79,423.26 L443.14,423.24 L443.49,423.22 L443.84,423.20 L444.19,423.18 L444.54,423.16 L444.90,423.14 L445.25,423.12 L445.60,423.10 L445.95,423.08 L446.30,423.06 L446.65,423.04 L447.00,423.02 L447.36,423.00 L447.71,422.98 L448.06,422.96 L448.41,422.94 L448.76,422.91 L449.11,422.89 L449.46,422.87 L449.82,422.85 L450.17,422.83 L450.52,422.81 L450.87,422.79 L451.22,422.77 L451.57,422.75 L451.92,422.73 L452.28,422.71 L452.63,422.69 L452.98,422.67 L453.33,422.66 L453.68,422.64 L454.03,422.62 L454.39,422.60 L454.74,422.58 L455.09,422.57 L455.44,422.55 L455.79,422.54 L456.14,422.52 L456.49,422.51 L456.85,422.49 L457.20,422.48 L457.55,422.47 L457.90,422.45 L458.25,422.44 L458.60,422.43 L458.95,422.42 L459.31,422.41 L459.66,422.40 L460.01,422.39 L460.36,422.38 L460.71,422.38 L461.06,422.37 L461.41,422.37 L461.77,422.36 L462.12,422.36 L462.47,422.35 L462.82,422.35 L463.17,422.35 L463.52,422.35 L463.87,422.35 L464.23,422.35 L464.58,422.35 L464.93,422.36 L465.28,422.36 L465.63,422.36 L465.98,422.37 L466.33,422.38 L466.69,422.38 L467.04,422.39 L467.39,422.40 L467.74,422.41 L468.09,422.42 L468.44,422.43 L468.79,422.44 L469.15,422.45 L469.50,422.47 L469.85,422.48 L470.20,422.50 L470.55,422.51 L470.90,422.53 L471.26,422.55 L471.61,422.56 L471.96,422.58 L472.31,422.60 L472.66,422.62 L473.01,422.64 L473.36,422.66 L473.72,422.69 L474.07,422.71 L474.42,422.73 L474.77,422.75 L475.12,422.78 L475.47,422.80 L475.82,422.83 L476.18,422.85 L476.53,422.88 L476.88,422.90 L477.23,422.93 L477.58,422.95 L477.93,422.98 L478.28,423.01 L478.64,423.03 L478.99,423.06 L479.34,423.08 L479.69,423.11 L480.04,423.13 L480.39,423.16 L480.74,423.18 L481.10,423.21 L481.45,423.23 L481.80,423.26 L482.15,423.28 L482.50,423.31 L482.85,423.33 L483.20,423.35 L483.56,423.38 L483.91,423.40 L484.26,423.42 L484.61,423.44 L484.96,423.46 L485.31,423.48 L485.66,423.50 L486.02,423.52 L486.37,423.54 L486.72,423.56 L487.07,423.57 L487.42,423.59 L487.77,423.60 L488.13,423.61 L488.48,423.62 L488.83,423.63 L489.18,423.64 L489.53,423.64 L489.88,423.65 L490.23,423.65 L490.59,423.65 L490.94,423.65 L491.29,423.65 L491.64,423.64 L491.99,423.63 L492.34,423.63 L492.69,423.61 L493.05,423.60 L493.40,423.59 L493.75,423.57 L494.10,423.55 L494.45,423.52 L494.80,423.50 L495.15,423.47 L495.51,423.44 L495.86,423.41 L496.21,423.37 L496.56,423.33 L496.91,423.29 L497.26,423.24 L497.61,423.19 L497.97,423.14 L498.32,423.09 L498.67,423.03 L499.02,422.96 L499.37,422.90 L499.72,422.83 L500.07,422.76 L500.43,422.68 L500.78,422.60 L501.13,422.52 L501.48,422.43 L501.83,422.34 L502.18,422.25 L502.54,422.15 L502.89,422.05 L503.24,421.94 L503.59,421.83 L503.94,421.72 L504.29,421.60 L504.64,421.47 L505.00,421.35 L505.35,421.22 L505.70,421.08 L506.05,420.94 L506.40,420.80 L506.75,420.65 L507.10,420.50 L507.46,420.34 L507.81,420.18 L508.16,420.02 L508.51,419.85 L508.86,419.67 L509.21,419.49 L509.56,419.31 L509.92,419.13 L510.27,418.93 L510.62,418.74 L510.97,418.54 L511.32,418.33 L511.67,418.13 L512.02,417.91 L512.38,417.70 L512.73,417.48 L513.08,417.25 L513.43,417.02 L513.78,416.79 L514.13,416.55 L514.48,416.31 L514.84,416.06 L515.19,415.81 L515.54,415.56 L515.89,415.30 L516.24,415.04 L516.59,414.77 L516.94,414.51 L517.30,414.23 L517.65,413.96 L518.00,413.68 L518.35,413.40 L518.70,413.11 L519.05,412.82 L519.41,412.53 L519.76,412.23 L520.11,411.93 L520.46,411.63 L520.81,411.33 L521.16,411.02 L521.51,410.71 L521.87,410.40 L522.22,410.08 L522.57,409.77 L522.92,409.45 L523.27,409.12 L523.62,408.80 L523.97,408.48 L524.33,408.15 L524.68,407.82 L525.03,407.49 L525.38,407.16 L525.73,406.82 L526.08,406.49 L526.43,406.16 L526.79,405.82 L527.14,405.48 L527.49,405.14 L527.84,404.81 L528.19,404.47 L528.54,404.13 L528.89,403.79 L529.25,403.45 L529.60,403.11 L529.95,402.78 L530.30,402.44 L530.65,402.10 L531.00,401.77 L531.35,401.43 L531.71,401.10 L532.06,400.76 L532.41,400.43 L532.76,400.10 L533.11,399.77 L533.46,399.45 L533.81,399.12 L534.17,398.80 L534.52,398.48 L534.87,398.16 L535.22,397.85 L535.57,397.54 L535.92,397.23 L536.28,396.92 L536.63,396.62 L536.98,396.32 L537.33,396.02 L537.68,395.73 L538.03,395.44 L538.38,395.15 L538.74,394.87 L539.09,394.59 L539.44,394.32 L539.79,394.05 L540.14,393.79 L540.49,393.53 L540.84,393.28 L541.20,393.03 L541.55,392.78 L541.90,392.54 L542.25,392.31 L542.60,392.08 L542.95,391.86 L543.30,391.64 L543.66,391.43 L544.01,391.23 L544.36,391.03 L544.71,390.84 L545.06,390.65 L545.41,390.47 L545.76,390.30 L546.12,390.13 L546.47,389.97 L546.82,389.82 L547.17,389.67 L547.52,389.53 L547.87,389.40 L548.22,389.27 L548.58,389.15 L548.93,389.04 L549.28,388.94 L549.63,388.84 L549.98,388.75 L550.33,388.67 L550.69,388.59 L551.04,388.53 L551.39,388.47 L551.74,388.42 L552.09,388.37 L552.44,388.34 L552.79,388.31 L553.15,388.29 L553.50,388.27 L553.85,388.27 L554.20,388.27 L554.55,388.28 L554.90,388.30 L555.25,388.32 L555.61,388.36 L555.96,388.40 L556.31,388.45 L556.66,388.50 L557.01,388.57 L557.36,388.64 L557.71,388.72 L558.07,388.81 L558.42,388.90 L558.77,389.00 L559.12,389.11 L559.47,389.23 L559.82,389.36 L560.17,389.49 L560.53,389.63 L560.88,389.77 L561.23,389.93 L561.58,390.09 L561.93,390.25 L562.28,390.43 L562.63,390.61 L562.99,390.80 L563.34,390.99 L563.69,391.19 L564.04,391.40 L564.39,391.61 L564.74,391.83 L565.09,392.06 L565.45,392.29 L565.80,392.53 L566.15,392.77 L566.50,393.02 L566.85,393.28 L567.20,393.54 L567.56,393.80 L567.91,394.07 L568.26,394.35 L568.61,394.63 L568.96,394.91 L569.31,395.20 L569.66,395.50 L570.02,395.80 L570.37,396.10 L570.72,396.40 L571.07,396.71 L571.42,397.03 L571.77,397.35 L572.12,397.67 L572.48,397.99 L572.83,398.32 L573.18,398.65 L573.53,398.98 L573.88,399.32 L574.23,399.65 L574.58,399.99 L574.94,400.34 L575.29,400.68 L575.64,401.03 L575.99,401.37 L576.34,401.72 L576.69,402.07 L577.04,402.42 L577.40,402.77 L577.75,403.13 L578.10,403.48 L578.45,403.84 L578.80,404.19 L579.15,404.54 L579.50,404.90 L579.86,405.25 L580.21,405.61 L580.56,405.96 L580.91,406.31 L581.26,406.67 L581.61,407.02 L581.96,407.37 L582.32,407.72 L582.67,408.07 L583.02,408.41 L583.37,408.76 L583.72,409.10 L584.07,409.44 L584.43,409.78 L584.78,410.11 L585.13,410.45 L585.48,410.78 L585.83,411.11 L586.18,411.44 L586.53,411.76 L586.89,412.08 L587.24,412.40 L587.59,412.71 L587.94,413.02 L588.29,413.33 L588.64,413.63 L588.99,413.93 L589.35,414.23 L589.70,414.52 L590.05,414.81 L590.40,415.10 L590.75,415.38 L591.10,415.66 L591.45,415.93 L591.81,416.20 L592.16,416.46 L592.51,416.72 L592.86,416.98 L593.21,417.23 L593.56,417.47 L593.91,417.71 L594.27,417.95 L594.62,418.18 L594.97,418.41 L595.32,418.63 L595.67,418.85 L596.02,419.06 L596.37,419.27 L596.73,419.47 L597.08,419.67 L597.43,419.86 L597.78,420.04 L598.13,420.23 L598.48,420.40 L598.83,420.58 L599.19,420.74 L599.54,420.90 L599.89,421.06 L600.24,421.21 L600.59,421.36 L600.94,421.50 L601.30,421.64 L601.65,421.77 L602.00,421.90 L602.35,422.02 L602.70,422.14 L603.05,422.25 L603.40,422.36 L603.76,422.46 L604.11,422.56 L604.46,422.65 L604.81,422.74 L605.16,422.82 L605.51,422.90 L605.86,422.98 L606.22,423.05 L606.57,423.11 L606.92,423.18 L607.27,423.23 L607.62,423.29 L607.97,423.34 L608.32,423.38 L608.68,423.43 L609.03,423.46 L609.38,423.50 L609.73,423.53 L610.08,423.55 L610.43,423.58 L610.78,423.60 L611.14,423.61 L611.49,423.63 L611.84,423.64 L612.19,423.64 L612.54,423.65 L612.89,423.65 L613.24,423.65 L613.60,423.64 L613.95,423.64 L614.30,423.63 L614.65,423.61 L615.00,423.60 L615.35,423.58 L615.71,423.56 L616.06,423.54 L616.41,423.52 L616.76,423.50 L617.11,423.47 L617.46,423.44 L617.81,423.41 L618.17,423.38 L618.52,423.35 L618.87,423.31 L619.22,423.28 L619.57,423.24 L619.92,423.20 L620.27,423.16 L620.63,423.12 L620.98,423.08 L621.33,423.04 L621.68,423.00 L622.03,422.96 L622.38,422.92 L622.73,422.87 L623.09,422.83 L623.44,422.79 L623.79,422.74 L624.14,422.70 L624.49,422.66 L624.84,422.61 L625.19,422.57 L625.55,422.53 L625.90,422.49 L626.25,422.44 L626.60,422.40 L626.95,422.36 L627.30,422.32 L627.65,422.28 L628.01,422.24 L628.36,422.20 L628.71,422.16 L629.06,422.13 L629.41,422.09 L629.76,422.06 L630.11,422.02 L630.47,421.99 L630.82,421.96 L631.17,421.93 L631.52,421.90 L631.87,421.87 L632.22,421.84 L632.58,421.81 L632.93,421.79 L633.28,421.77 L633.63,421.74 L633.98,421.72 L634.33,421.70 L634.68,421.69 L635.04,421.67 L635.39,421.65 L635.74,421.64 L636.09,421.63 L636.44,421.62 L636.79,421.61 L637.14,421.60 L637.50,421.59 L637.85,421.59 L638.20,421.58 L638.55,421.58 L638.90,421.58 L639.25,421.58 L639.60,421.58 L639.96,421.58 L640.31,421.59 L640.66,421.60 L641.01,421.60 L641.36,421.61 L641.71,421.62 L642.06,421.63 L642.42,421.65 L642.77,421.66 L643.12,421.67 L643.47,421.69 L643.82,421.71 L644.17,421.73 L644.52,421.75 L644.88,421.77 L645.23,421.79 L645.58,421.81 L645.93,421.83 L646.28,421.86 L646.63,421.88 L646.98,421.91 L647.34,421.94 L647.69,421.97 L648.04,421.99 L648.39,422.02 L648.74,422.05 L649.09,422.08 L649.45,422.11 L649.80,422.15 L650.15,422.18 L650.50,422.21 L650.85,422.24 L651.20,422.28 L651.55,422.31 L651.91,422.35 L652.26,422.38 L652.61,422.41 L652.96,422.45 L653.31,422.48 L653.66,422.52 L654.01,422.55 L654.37,422.59 L654.72,422.62 L655.07,422.66 L655.42,422.69 L655.77,422.73 L656.12,422.76 L656.47,422.79 L656.83,422.83 L657.18,422.86 L657.53,422.89 L657.88,422.93 L658.23,422.96 L658.58,422.99 L658.93,423.02 L659.29,423.05 L659.64,423.08 L659.99,423.11 L660.34,423.14 L660.69,423.17 L661.04,423.20 L661.39,423.23 L661.75,423.25 L662.10,423.28 L662.45,423.30 L662.80,423.33 L663.15,423.35 L663.50,423.37 L663.86,423.39 L664.21,423.42 L664.56,423.44 L664.91,423.45 L665.26,423.47 L665.61,423.49 L665.96,423.51 L666.32,423.52 L666.67,423.54 L667.02,423.55 L667.37,423.56 L667.72,423.58 L668.07,423.59 L668.42,423.60 L668.78,423.61 L669.13,423.62 L669.48,423.62 L669.83,423.63 L670.18,423.64 L670.53,423.64 L670.88,423.64 L671.24,423.65 L671.59,423.65 L671.94,423.65 L672.29,423.65 L672.64,423.65 L672.99,423.65 L673.34,423.65 L673.70,423.64 L674.05,423.64 L674.40,423.63 L674.75,423.63 L675.10,423.62 L675.45,423.62 L675.80,423.61 L676.16,423.60 L676.51,423.59 L676.86,423.58 L677.21,423.57 L677.56,423.56 L677.91,423.55 L678.26,423.54 L678.62,423.53 L678.97,423.51 L679.32,423.50 L679.67,423.49 L680.02,423.47 L680.37,423.46 L680.73,423.44 L681.08,423.43 L681.43,423.41 L681.78,423.40 L682.13,423.38 L682.48,423.36 L682.83,423.35 L683.19,423.33 L683.54,423.31 L683.89,423.30 L684.24,423.28 L684.59,423.26 L684.94,423.25 L685.29,423.23 L685.65,423.21 L686.00,423.20 L686.35,423.18 L686.70,423.16 L687.05,423.15 L687.40,423.13 L687.75,423.11 L688.11,423.10 L688.46,423.08 L688.81,423.07 L689.16,423.05 L689.51,423.04 L689.86,423.02 L690.21,423.01 L690.57,422.99 L690.92,422.98 L691.27,422.97 L691.62,422.95 L691.97,422.94 L692.32,422.93 L692.67,422.92 L693.03,422.91 L693.38,422.89 L693.73,422.88 L694.08,422.88 L694.43,422.87 L694.78,422.86 L695.13,422.85 L695.49,422.84 L695.84,422.84 L696.19,422.83 L696.54,422.82 L696.89,422.82 L697.24,422.81 L697.60,422.81 L697.95,422.81 L698.30,422.80 L698.65,422.80 L699.00,422.80 L699.35,422.80 L699.70,422.80 L700.06,422.80 L700.41,422.80 L700.76,422.80 L701.11,422.80 L701.46,422.81 L701.81,422.81 L702.16,422.81 L702.52,422.82 L702.87,422.82 L703.22,422.83 L703.57,422.83 L703.92,422.84 L704.27,422.85 L704.62,422.85 L704.98,422.86 L705.33,422.87 L705.68,422.88 L706.03,422.89 L706.38,422.90 L706.73,422.91 L707.08,422.92 L707.44,422.93 L707.79,422.94 L708.14,422.95 L708.49,422.97 L708.84,422.98 L709.19,422.99 L709.54,423.00 L709.90,423.02 L710.25,423.03 L710.60,423.05 L710.95,423.06 L711.30,423.07 L711.65,423.09 L712.00,423.10 L712.36,423.12 L712.71,423.13 L713.06,423.15 L713.41,423.16 L713.76,423.18 L714.11,423.19 L714.47,423.21 L714.82,423.22 L715.17,423.24 L715.52,423.25 L715.87,423.27 L716.22,423.28 L716.57,423.30" stroke="#E19C24" stroke-width="5.0" stroke-linejoin="round"/>
</g>
<g clip-path="url(#cr)" fill="none">
<line x1="1267.50" y1="452.10" x2="1267.50" y2="53.70" stroke="#5E81B5" stroke-opacity="0.4" stroke-width="3.0" stroke-dasharray="11.9 12.03"/>
<line x1="1290.10" y1="452.10" x2="1290.10" y2="53.70" stroke="#EB6235" stroke-opacity="0.4" stroke-width="3.0" stroke-dasharray="11.9 12.03"/>
<line x1="1311.85" y1="452.10" x2="1311.85" y2="53.70" stroke="#E19C24" stroke-opacity="0.4" stroke-width="3.0" stroke-dasharray="11.9 12.03"/>
<line x1="883.40" y1="429.10" x2="1445.20" y2="429.10" stroke="#D6D6D6" stroke-width="5.0"/>
<path d="M883.40,429.30 L1265.75,429.30 L1266.00,426.19 L1266.25,423.06 L1266.50,419.92 L1266.74,416.77 L1266.99,413.60 L1267.24,410.43 L1267.49,407.25 L1267.74,404.06 L1267.99,400.87 L1268.24,397.67 L1268.48,394.47 L1268.73,391.28 L1268.98,388.08 L1269.23,384.89 L1269.48,381.69 L1269.73,378.51 L1269.98,375.33 L1270.23,372.15 L1270.47,368.99 L1270.72,365.83 L1270.97,362.68 L1271.22,359.55 L1271.47,356.42 L1271.72,353.31 L1271.97,350.21 L1272.21,347.13 L1272.46,344.06 L1272.71,341.00 L1272.96,337.97 L1273.21,334.95 L1273.46,331.95 L1273.71,328.96 L1273.95,326.00 L1274.20,323.05 L1274.45,320.13 L1274.70,317.22 L1274.95,314.34 L1275.20,311.48 L1275.45,308.64 L1275.69,305.82 L1275.94,303.03 L1276.19,300.25 L1276.44,297.51 L1276.69,294.78 L1276.94,292.08 L1277.19,289.41 L1277.44,286.76 L1277.68,284.13 L1277.93,281.53 L1278.18,278.95 L1278.43,276.40 L1278.68,273.88 L1278.93,271.38 L1279.18,268.91 L1279.42,266.46 L1279.67,264.04 L1279.92,261.64 L1280.17,259.27 L1280.42,256.93 L1280.67,254.62 L1280.92,252.33 L1281.16,250.06 L1281.41,247.82 L1281.66,245.61 L1281.91,243.43 L1282.16,241.27 L1282.41,239.14 L1282.66,237.03 L1282.90,234.95 L1283.15,232.90 L1283.40,230.87 L1283.65,228.87 L1283.90,226.89 L1284.15,224.94 L1284.40,223.01 L1284.65,221.11 L1284.89,219.24 L1285.14,217.39 L1285.39,215.56 L1285.64,213.76 L1285.89,211.98 L1286.14,210.23 L1286.39,208.50 L1286.63,206.80 L1286.88,205.12 L1287.13,203.46 L1287.38,201.83 L1287.63,200.22 L1287.88,198.63 L1288.13,197.07 L1288.37,195.52 L1288.62,194.01 L1288.87,192.51 L1289.12,191.03 L1289.37,189.58 L1289.62,188.15 L1289.87,186.74 L1290.11,185.35 L1290.36,183.98 L1290.61,182.63 L1290.86,181.31 L1291.11,180.00 L1291.36,178.71 L1291.61,177.44 L1291.86,176.20 L1292.10,174.97 L1292.35,173.76 L1292.60,172.57 L1292.85,171.39 L1293.10,170.24 L1293.35,169.11 L1293.60,167.99 L1293.84,166.89 L1294.09,165.81 L1294.34,164.74 L1294.59,163.69 L1294.84,162.66 L1295.09,161.65 L1295.34,160.65 L1295.58,159.67 L1295.83,158.70 L1296.08,157.75 L1296.33,156.82 L1296.58,155.90 L1296.83,154.99 L1297.08,154.11 L1297.32,153.23 L1297.57,152.37 L1297.82,151.53 L1298.07,150.70 L1298.32,149.88 L1298.57,149.08 L1298.82,148.29 L1299.07,147.52 L1299.31,146.76 L1299.56,146.01 L1299.81,145.28 L1300.06,144.55 L1300.31,143.85 L1300.56,143.15 L1300.81,142.47 L1301.05,141.80 L1301.30,141.14 L1301.55,140.49 L1301.80,139.86 L1302.05,139.24 L1302.30,138.63 L1302.55,138.03 L1302.79,137.44 L1303.04,136.87 L1303.29,136.30 L1303.54,135.75 L1303.79,135.21 L1304.04,134.68 L1304.29,134.16 L1304.53,133.66 L1304.78,133.16 L1305.03,132.68 L1305.28,132.20 L1305.53,131.74 L1305.78,131.28 L1306.03,130.84 L1306.28,130.41 L1306.52,129.99 L1306.77,129.58 L1307.02,129.18 L1307.27,128.79 L1307.52,128.41 L1307.77,128.04 L1308.02,127.68 L1308.26,127.34 L1308.51,127.00 L1308.76,126.67 L1309.01,126.36 L1309.26,126.05 L1309.51,125.75 L1309.76,125.47 L1310.00,125.19 L1310.25,124.93 L1310.50,124.67 L1310.75,124.43 L1311.00,124.20 L1311.25,123.97 L1311.50,123.76 L1311.74,123.56 L1311.99,123.37 L1312.24,123.19 L1312.49,123.02 L1312.74,122.86 L1312.99,122.71 L1313.24,122.57 L1313.49,122.45 L1313.73,122.33 L1313.98,122.23 L1314.23,122.13 L1314.48,122.05 L1314.73,121.98 L1314.98,121.92 L1315.23,121.87 L1315.47,121.83 L1315.72,121.81 L1315.97,121.79 L1316.22,121.79 L1316.47,121.80 L1316.72,121.82 L1316.97,121.85 L1317.21,121.89 L1317.46,121.95 L1317.71,122.02 L1317.96,122.10 L1318.21,122.19 L1318.46,122.29 L1318.71,122.41 L1318.96,122.54 L1319.20,122.68 L1319.45,122.84 L1319.70,123.00 L1319.95,123.18 L1320.20,123.38 L1320.45,123.58 L1320.70,123.80 L1320.94,124.04 L1321.19,124.28 L1321.44,124.54 L1321.69,124.81 L1321.94,125.10 L1322.19,125.40 L1322.44,125.71 L1322.68,126.04 L1322.93,126.38 L1323.18,126.74 L1323.43,127.11 L1323.68,127.49 L1323.93,127.89 L1324.18,128.30 L1324.42,128.73 L1324.67,129.17 L1324.92,129.63 L1325.17,130.10 L1325.42,130.59 L1325.67,131.09 L1325.92,131.61 L1326.17,132.14 L1326.41,132.69 L1326.66,133.25 L1326.91,133.83 L1327.16,134.42 L1327.41,135.03 L1327.66,135.65 L1327.91,136.29 L1328.15,136.95 L1328.40,137.62 L1328.65,138.30 L1328.90,139.01 L1329.15,139.73 L1329.40,140.46 L1329.65,141.21 L1329.89,141.98 L1330.14,142.76 L1330.39,143.56 L1330.64,144.38 L1330.89,145.21 L1331.14,146.06 L1331.39,146.93 L1331.63,147.81 L1331.88,148.71 L1332.13,149.63 L1332.38,150.56 L1332.63,151.51 L1332.88,152.47 L1333.13,153.46 L1333.38,154.46 L1333.62,155.47 L1333.87,156.51 L1334.12,157.56 L1334.37,158.62 L1334.62,159.71 L1334.87,160.81 L1335.12,161.93 L1335.36,163.06 L1335.61,164.21 L1335.86,165.38 L1336.11,166.57 L1336.36,167.77 L1336.61,168.99 L1336.86,170.23 L1337.10,171.48 L1337.35,172.76 L1337.60,174.04 L1337.85,175.35 L1338.10,176.67 L1338.35,178.01 L1338.60,179.37 L1338.84,180.74 L1339.09,182.13 L1339.34,183.54 L1339.59,184.97 L1339.84,186.41 L1340.09,187.87 L1340.34,189.34 L1340.59,190.84 L1340.83,192.35 L1341.08,193.87 L1341.33,195.42 L1341.58,196.98 L1341.83,198.56 L1342.08,200.15 L1342.33,201.76 L1342.57,203.39 L1342.82,205.04 L1343.07,206.70 L1343.32,208.38 L1343.57,210.07 L1343.82,211.78 L1344.07,213.51 L1344.31,215.26 L1344.56,217.02 L1344.81,218.80 L1345.06,220.60 L1345.31,222.41 L1345.56,224.24 L1345.81,226.08 L1346.05,227.95 L1346.30,229.83 L1346.55,231.72 L1346.80,233.64 L1347.05,235.57 L1347.30,237.51 L1347.55,239.48 L1347.80,241.46 L1348.04,243.45 L1348.29,245.47 L1348.54,247.50 L1348.79,249.55 L1349.04,251.61 L1349.29,253.70 L1349.54,255.80 L1349.78,257.91 L1350.03,260.05 L1350.28,262.20 L1350.53,264.37 L1350.78,266.56 L1351.03,268.76 L1351.28,270.98 L1351.52,273.22 L1351.77,275.48 L1352.02,277.76 L1352.27,280.05 L1352.52,282.37 L1352.77,284.70 L1353.02,287.05 L1353.26,289.42 L1353.51,291.81 L1353.76,294.22 L1354.01,296.65 L1354.26,299.10 L1354.51,301.57 L1354.76,304.06 L1355.01,306.57 L1355.25,309.10 L1355.50,311.65 L1355.75,314.23 L1356.00,316.82 L1356.25,319.44 L1356.50,322.08 L1356.75,324.75 L1356.99,327.43 L1357.24,330.15 L1357.49,332.88 L1357.74,335.64 L1357.99,338.43 L1358.24,341.24 L1358.49,344.08 L1358.73,346.94 L1358.98,349.84 L1359.23,352.76 L1359.48,355.70 L1359.73,358.68 L1359.98,361.69 L1360.23,364.73 L1360.47,367.80 L1360.72,370.90 L1360.97,374.03 L1361.22,377.20 L1361.47,380.40 L1361.72,383.63 L1361.97,386.90 L1362.22,390.21 L1362.46,393.56 L1362.71,396.94 L1362.96,400.37 L1363.21,403.83 L1363.46,407.34 L1363.71,410.88 L1363.96,414.47 L1364.20,418.11 L1364.45,421.79 L1364.70,425.52 L1364.95,429.30 L1445.20,429.30" stroke="#5E81B5" stroke-width="5.0" stroke-linejoin="round"/>
<path d="M883.40,429.30 L1257.85,429.30 L1258.05,427.74 L1258.26,426.16 L1258.46,424.57 L1258.66,422.97 L1258.87,421.35 L1259.07,419.72 L1259.27,418.08 L1259.48,416.44 L1259.68,414.78 L1259.88,413.12 L1260.09,411.45 L1260.29,409.77 L1260.49,408.09 L1260.70,406.40 L1260.90,404.71 L1261.10,403.02 L1261.31,401.33 L1261.51,399.63 L1261.71,397.93 L1261.92,396.23 L1262.12,394.54 L1262.32,392.84 L1262.52,391.14 L1262.73,389.45 L1262.93,387.76 L1263.13,386.07 L1263.34,384.38 L1263.54,382.70 L1263.74,381.02 L1263.95,379.35 L1264.15,377.68 L1264.35,376.02 L1264.56,374.36 L1264.76,372.71 L1264.96,371.07 L1265.17,369.43 L1265.37,367.80 L1265.57,366.18 L1265.78,364.56 L1265.98,362.96 L1266.18,361.36 L1266.39,359.77 L1266.59,358.19 L1266.79,356.62 L1267.00,355.05 L1267.20,353.50 L1267.40,351.96 L1267.61,350.42 L1267.81,348.90 L1268.01,347.39 L1268.22,345.89 L1268.42,344.39 L1268.62,342.91 L1268.83,341.44 L1269.03,339.98 L1269.23,338.53 L1269.44,337.10 L1269.64,335.67 L1269.84,334.26 L1270.05,332.85 L1270.25,331.46 L1270.45,330.08 L1270.66,328.71 L1270.86,327.35 L1271.06,326.01 L1271.27,324.67 L1271.47,323.35 L1271.67,322.04 L1271.87,320.74 L1272.08,319.46 L1272.28,318.18 L1272.48,316.92 L1272.69,315.67 L1272.89,314.43 L1273.09,313.20 L1273.30,311.98 L1273.50,310.78 L1273.70,309.59 L1273.91,308.41 L1274.11,307.24 L1274.31,306.08 L1274.52,304.93 L1274.72,303.80 L1274.92,302.68 L1275.13,301.57 L1275.33,300.47 L1275.53,299.38 L1275.74,298.30 L1275.94,297.24 L1276.14,296.18 L1276.35,295.14 L1276.55,294.11 L1276.75,293.09 L1276.96,292.08 L1277.16,291.08 L1277.36,290.09 L1277.57,289.12 L1277.77,288.15 L1277.97,287.20 L1278.18,286.25 L1278.38,285.32 L1278.58,284.40 L1278.79,283.48 L1278.99,282.58 L1279.19,281.69 L1279.40,280.81 L1279.60,279.94 L1279.80,279.08 L1280.01,278.23 L1280.21,277.39 L1280.41,276.56 L1280.61,275.74 L1280.82,274.93 L1281.02,274.12 L1281.22,273.33 L1281.43,272.55 L1281.63,271.78 L1281.83,271.02 L1282.04,270.27 L1282.24,269.52 L1282.44,268.79 L1282.65,268.06 L1282.85,267.35 L1283.05,266.64 L1283.26,265.95 L1283.46,265.26 L1283.66,264.58 L1283.87,263.91 L1284.07,263.25 L1284.27,262.60 L1284.48,261.96 L1284.68,261.32 L1284.88,260.70 L1285.09,260.08 L1285.29,259.47 L1285.49,258.88 L1285.70,258.29 L1285.90,257.70 L1286.10,257.13 L1286.31,256.57 L1286.51,256.01 L1286.71,255.47 L1286.92,254.93 L1287.12,254.40 L1287.32,253.88 L1287.53,253.36 L1287.73,252.86 L1287.93,252.36 L1288.14,251.88 L1288.34,251.40 L1288.54,250.92 L1288.75,250.46 L1288.95,250.01 L1289.15,249.56 L1289.36,249.12 L1289.56,248.70 L1289.76,248.27 L1289.96,247.86 L1290.17,247.46 L1290.37,247.06 L1290.57,246.67 L1290.78,246.29 L1290.98,245.92 L1291.18,245.56 L1291.39,245.21 L1291.59,244.86 L1291.79,244.52 L1292.00,244.20 L1292.20,243.87 L1292.40,243.56 L1292.61,243.26 L1292.81,242.96 L1293.01,242.68 L1293.22,242.40 L1293.42,242.13 L1293.62,241.87 L1293.83,241.61 L1294.03,241.37 L1294.23,241.14 L1294.44,240.91 L1294.64,240.69 L1294.84,240.48 L1295.05,240.28 L1295.25,240.09 L1295.45,239.91 L1295.66,239.73 L1295.86,239.57 L1296.06,239.41 L1296.27,239.26 L1296.47,239.12 L1296.67,238.99 L1296.88,238.87 L1297.08,238.76 L1297.28,238.66 L1297.49,238.57 L1297.69,238.48 L1297.89,238.41 L1298.10,238.34 L1298.30,238.28 L1298.50,238.24 L1298.70,238.20 L1298.91,238.17 L1299.11,238.15 L1299.31,238.14 L1299.52,238.14 L1299.72,238.15 L1299.92,238.17 L1300.13,238.20 L1300.33,238.24 L1300.53,238.29 L1300.74,238.34 L1300.94,238.41 L1301.14,238.49 L1301.35,238.57 L1301.55,238.67 L1301.75,238.78 L1301.96,238.90 L1302.16,239.02 L1302.36,239.16 L1302.57,239.30 L1302.77,239.46 L1302.97,239.63 L1303.18,239.80 L1303.38,239.99 L1303.58,240.19 L1303.79,240.40 L1303.99,240.61 L1304.19,240.84 L1304.40,241.08 L1304.60,241.33 L1304.80,241.59 L1305.01,241.85 L1305.21,242.13 L1305.41,242.42 L1305.62,242.72 L1305.82,243.03 L1306.02,243.35 L1306.23,243.68 L1306.43,244.02 L1306.63,244.38 L1306.84,244.74 L1307.04,245.11 L1307.24,245.49 L1307.44,245.89 L1307.65,246.29 L1307.85,246.71 L1308.05,247.13 L1308.26,247.56 L1308.46,248.01 L1308.66,248.47 L1308.87,248.93 L1309.07,249.41 L1309.27,249.90 L1309.48,250.39 L1309.68,250.90 L1309.88,251.42 L1310.09,251.95 L1310.29,252.49 L1310.49,253.04 L1310.70,253.60 L1310.90,254.17 L1311.10,254.75 L1311.31,255.34 L1311.51,255.94 L1311.71,256.55 L1311.92,257.17 L1312.12,257.80 L1312.32,258.45 L1312.53,259.10 L1312.73,259.76 L1312.93,260.43 L1313.14,261.11 L1313.34,261.80 L1313.54,262.50 L1313.75,263.22 L1313.95,263.94 L1314.15,264.67 L1314.36,265.41 L1314.56,266.16 L1314.76,266.92 L1314.97,267.69 L1315.17,268.47 L1315.37,269.26 L1315.58,270.06 L1315.78,270.86 L1315.98,271.68 L1316.19,272.51 L1316.39,273.34 L1316.59,274.19 L1316.79,275.04 L1317.00,275.91 L1317.20,276.78 L1317.40,277.66 L1317.61,278.55 L1317.81,279.45 L1318.01,280.36 L1318.22,281.28 L1318.42,282.20 L1318.62,283.14 L1318.83,284.08 L1319.03,285.03 L1319.23,285.99 L1319.44,286.96 L1319.64,287.94 L1319.84,288.93 L1320.05,289.92 L1320.25,290.93 L1320.45,291.94 L1320.66,292.96 L1320.86,293.99 L1321.06,295.02 L1321.27,296.07 L1321.47,297.12 L1321.67,298.18 L1321.88,299.25 L1322.08,300.33 L1322.28,301.42 L1322.49,302.51 L1322.69,303.61 L1322.89,304.72 L1323.10,305.84 L1323.30,306.97 L1323.50,308.10 L1323.71,309.25 L1323.91,310.40 L1324.11,311.56 L1324.32,312.72 L1324.52,313.90 L1324.72,315.08 L1324.93,316.28 L1325.13,317.48 L1325.33,318.68 L1325.53,319.90 L1325.74,321.13 L1325.94,322.36 L1326.14,323.60 L1326.35,324.85 L1326.55,326.11 L1326.75,327.38 L1326.96,328.66 L1327.16,329.94 L1327.36,331.24 L1327.57,332.54 L1327.77,333.86 L1327.97,335.18 L1328.18,336.52 L1328.38,337.86 L1328.58,339.21 L1328.79,340.57 L1328.99,341.95 L1329.19,343.33 L1329.40,344.73 L1329.60,346.13 L1329.80,347.55 L1330.01,348.98 L1330.21,350.42 L1330.41,351.87 L1330.62,353.33 L1330.82,354.81 L1331.02,356.30 L1331.23,357.80 L1331.43,359.32 L1331.63,360.85 L1331.84,362.39 L1332.04,363.95 L1332.24,365.52 L1332.45,367.11 L1332.65,368.71 L1332.85,370.33 L1333.06,371.97 L1333.26,373.62 L1333.46,375.29 L1333.67,376.98 L1333.87,378.69 L1334.07,380.41 L1334.28,382.16 L1334.48,383.92 L1334.68,385.71 L1334.88,387.52 L1335.09,389.35 L1335.29,391.20 L1335.49,393.08 L1335.70,394.98 L1335.90,396.90 L1336.10,398.85 L1336.31,400.83 L1336.51,402.83 L1336.71,404.86 L1336.92,406.92 L1337.12,409.01 L1337.32,411.13 L1337.53,413.28 L1337.73,415.47 L1337.93,417.68 L1338.14,419.93 L1338.34,422.22 L1338.54,424.54 L1338.75,426.90 L1338.95,429.30 L1445.20,429.30" stroke="#EB6235" stroke-width="5.0" stroke-linejoin="round"/>
<path d="M883.40,429.30 L1264.35,429.30 L1264.45,429.07 L1264.55,428.84 L1264.66,428.60 L1264.76,428.36 L1264.86,428.11 L1264.96,427.86 L1265.06,427.60 L1265.16,427.34 L1265.27,427.08 L1265.37,426.81 L1265.47,426.54 L1265.57,426.26 L1265.67,425.98 L1265.77,425.70 L1265.88,425.42 L1265.98,425.13 L1266.08,424.83 L1266.18,424.54 L1266.28,424.24 L1266.39,423.94 L1266.49,423.64 L1266.59,423.33 L1266.69,423.02 L1266.79,422.71 L1266.89,422.40 L1267.00,422.08 L1267.10,421.76 L1267.20,421.45 L1267.30,421.12 L1267.40,420.80 L1267.50,420.48 L1267.61,420.15 L1267.71,419.82 L1267.81,419.49 L1267.91,419.16 L1268.01,418.83 L1268.11,418.50 L1268.22,418.17 L1268.32,417.83 L1268.42,417.50 L1268.52,417.16 L1268.62,416.82 L1268.73,416.48 L1268.83,416.15 L1268.93,415.81 L1269.03,415.47 L1269.13,415.13 L1269.23,414.79 L1269.34,414.45 L1269.44,414.11 L1269.54,413.77 L1269.64,413.43 L1269.74,413.09 L1269.84,412.75 L1269.95,412.41 L1270.05,412.08 L1270.15,411.74 L1270.25,411.40 L1270.35,411.06 L1270.46,410.73 L1270.56,410.39 L1270.66,410.06 L1270.76,409.72 L1270.86,409.39 L1270.96,409.06 L1271.07,408.73 L1271.17,408.40 L1271.27,408.07 L1271.37,407.74 L1271.47,407.41 L1271.57,407.09 L1271.68,406.76 L1271.78,406.44 L1271.88,406.12 L1271.98,405.80 L1272.08,405.48 L1272.19,405.16 L1272.29,404.85 L1272.39,404.53 L1272.49,404.22 L1272.59,403.91 L1272.69,403.60 L1272.80,403.30 L1272.90,402.99 L1273.00,402.69 L1273.10,402.39 L1273.20,402.09 L1273.30,401.80 L1273.41,401.50 L1273.51,401.21 L1273.61,400.92 L1273.71,400.63 L1273.81,400.35 L1273.91,400.06 L1274.02,399.78 L1274.12,399.50 L1274.22,399.23 L1274.32,398.95 L1274.42,398.68 L1274.53,398.41 L1274.63,398.15 L1274.73,397.88 L1274.83,397.62 L1274.93,397.36 L1275.03,397.11 L1275.14,396.86 L1275.24,396.60 L1275.34,396.36 L1275.44,396.11 L1275.54,395.87 L1275.64,395.63 L1275.75,395.39 L1275.85,395.16 L1275.95,394.93 L1276.05,394.70 L1276.15,394.47 L1276.26,394.25 L1276.36,394.03 L1276.46,393.81 L1276.56,393.60 L1276.66,393.39 L1276.76,393.18 L1276.87,392.98 L1276.97,392.77 L1277.07,392.57 L1277.17,392.38 L1277.27,392.18 L1277.37,392.00 L1277.48,391.81 L1277.58,391.62 L1277.68,391.44 L1277.78,391.27 L1277.88,391.09 L1277.99,390.92 L1278.09,390.75 L1278.19,390.59 L1278.29,390.42 L1278.39,390.27 L1278.49,390.11 L1278.60,389.96 L1278.70,389.81 L1278.80,389.66 L1278.90,389.52 L1279.00,389.38 L1279.10,389.24 L1279.21,389.11 L1279.31,388.98 L1279.41,388.85 L1279.51,388.72 L1279.61,388.60 L1279.71,388.49 L1279.82,388.37 L1279.92,388.26 L1280.02,388.15 L1280.12,388.05 L1280.22,387.94 L1280.33,387.84 L1280.43,387.75 L1280.53,387.66 L1280.63,387.57 L1280.73,387.48 L1280.83,387.40 L1280.94,387.32 L1281.04,387.24 L1281.14,387.17 L1281.24,387.10 L1281.34,387.03 L1281.44,386.96 L1281.55,386.90 L1281.65,386.84 L1281.75,386.79 L1281.85,386.74 L1281.95,386.69 L1282.06,386.64 L1282.16,386.60 L1282.26,386.56 L1282.36,386.52 L1282.46,386.49 L1282.56,386.46 L1282.67,386.43 L1282.77,386.40 L1282.87,386.38 L1282.97,386.36 L1283.07,386.34 L1283.17,386.33 L1283.28,386.32 L1283.38,386.31 L1283.48,386.31 L1283.58,386.31 L1283.68,386.31 L1283.79,386.31 L1283.89,386.32 L1283.99,386.33 L1284.09,386.34 L1284.19,386.36 L1284.29,386.37 L1284.40,386.40 L1284.50,386.42 L1284.60,386.45 L1284.70,386.47 L1284.80,386.51 L1284.90,386.54 L1285.01,386.58 L1285.11,386.62 L1285.21,386.66 L1285.31,386.70 L1285.41,386.75 L1285.51,386.80 L1285.62,386.85 L1285.72,386.91 L1285.82,386.97 L1285.92,387.03 L1286.02,387.09 L1286.13,387.16 L1286.23,387.22 L1286.33,387.29 L1286.43,387.37 L1286.53,387.44 L1286.63,387.52 L1286.74,387.60 L1286.84,387.68 L1286.94,387.77 L1287.04,387.85 L1287.14,387.94 L1287.24,388.03 L1287.35,388.13 L1287.45,388.22 L1287.55,388.32 L1287.65,388.42 L1287.75,388.52 L1287.86,388.63 L1287.96,388.74 L1288.06,388.84 L1288.16,388.96 L1288.26,389.07 L1288.36,389.18 L1288.47,389.30 L1288.57,389.42 L1288.67,389.54 L1288.77,389.67 L1288.87,389.79 L1288.97,389.92 L1289.08,390.05 L1289.18,390.18 L1289.28,390.31 L1289.38,390.45 L1289.48,390.59 L1289.59,390.72 L1289.69,390.87 L1289.79,391.01 L1289.89,391.15 L1289.99,391.30 L1290.09,391.45 L1290.20,391.60 L1290.30,391.75 L1290.40,391.90 L1290.50,392.06 L1290.60,392.21 L1290.70,392.37 L1290.81,392.53 L1290.91,392.69 L1291.01,392.86 L1291.11,393.02 L1291.21,393.19 L1291.31,393.36 L1291.42,393.53 L1291.52,393.70 L1291.62,393.87 L1291.72,394.05 L1291.82,394.22 L1291.93,394.40 L1292.03,394.58 L1292.13,394.76 L1292.23,394.94 L1292.33,395.13 L1292.43,395.31 L1292.54,395.50 L1292.64,395.69 L1292.74,395.87 L1292.84,396.07 L1292.94,396.26 L1293.04,396.45 L1293.15,396.65 L1293.25,396.84 L1293.35,397.04 L1293.45,397.24 L1293.55,397.44 L1293.66,397.64 L1293.76,397.84 L1293.86,398.05 L1293.96,398.25 L1294.06,398.46 L1294.16,398.67 L1294.27,398.88 L1294.37,399.09 L1294.47,399.30 L1294.57,399.51 L1294.67,399.73 L1294.77,399.94 L1294.88,400.16 L1294.98,400.38 L1295.08,400.60 L1295.18,400.82 L1295.28,401.04 L1295.39,401.26 L1295.49,401.49 L1295.59,401.71 L1295.69,401.94 L1295.79,402.17 L1295.89,402.40 L1296.00,402.63 L1296.10,402.86 L1296.20,403.09 L1296.30,403.33 L1296.40,403.56 L1296.50,403.80 L1296.61,404.04 L1296.71,404.28 L1296.81,404.52 L1296.91,404.76 L1297.01,405.00 L1297.11,405.25 L1297.22,405.49 L1297.32,405.74 L1297.42,405.99 L1297.52,406.24 L1297.62,406.49 L1297.73,406.74 L1297.83,406.99 L1297.93,407.25 L1298.03,407.50 L1298.13,407.76 L1298.23,408.02 L1298.34,408.28 L1298.44,408.54 L1298.54,408.80 L1298.64,409.07 L1298.74,409.33 L1298.84,409.60 L1298.95,409.87 L1299.05,410.14 L1299.15,410.41 L1299.25,410.68 L1299.35,410.96 L1299.46,411.24 L1299.56,411.51 L1299.66,411.79 L1299.76,412.07 L1299.86,412.36 L1299.96,412.64 L1300.07,412.93 L1300.17,413.22 L1300.27,413.51 L1300.37,413.80 L1300.47,414.09 L1300.57,414.39 L1300.68,414.68 L1300.78,414.98 L1300.88,415.28 L1300.98,415.58 L1301.08,415.89 L1301.19,416.19 L1301.29,416.50 L1301.39,416.81 L1301.49,417.13 L1301.59,417.44 L1301.69,417.76 L1301.80,418.08 L1301.90,418.40 L1302.00,418.72 L1302.10,419.05 L1302.20,419.38 L1302.30,419.71 L1302.41,420.04 L1302.51,420.38 L1302.61,420.72 L1302.71,421.06 L1302.81,421.40 L1302.91,421.75 L1303.02,422.09 L1303.12,422.45 L1303.22,422.80 L1303.32,423.16 L1303.42,423.52 L1303.53,423.88 L1303.63,424.25 L1303.73,424.61 L1303.83,424.99 L1303.93,425.36 L1304.03,425.74 L1304.14,426.12 L1304.24,426.51 L1304.34,426.90 L1304.44,427.29 L1304.54,427.68 L1304.64,428.08 L1304.75,428.48 L1304.85,428.89 L1304.95,429.30 L1445.20,429.30" stroke="#E19C24" stroke-width="5.0" stroke-linejoin="round"/>
</g>
<rect x="154.75" y="58.70" width="561.35" height="393.50" fill="none" stroke="#666666" stroke-width="1.6"/>
<line x1="228.10" y1="452.20" x2="228.10" y2="445.00" stroke="#000" stroke-width="1.5"/>
<line x1="375.12" y1="452.20" x2="375.12" y2="445.00" stroke="#000" stroke-width="1.5"/>
<line x1="522.14" y1="452.20" x2="522.14" y2="445.00" stroke="#000" stroke-width="1.5"/>
<line x1="669.16" y1="452.20" x2="669.16" y2="445.00" stroke="#000" stroke-width="1.5"/>
<line x1="154.75" y1="423.90" x2="161.95" y2="423.90" stroke="#000" stroke-width="1.5"/>
<line x1="154.75" y1="255.42" x2="161.95" y2="255.42" stroke="#000" stroke-width="1.5"/>
<line x1="154.75" y1="86.94" x2="161.95" y2="86.94" stroke="#000" stroke-width="1.5"/>
<rect x="883.40" y="58.70" width="561.80" height="393.50" fill="none" stroke="#666666" stroke-width="1.6"/>
<line x1="956.85" y1="452.20" x2="956.85" y2="445.00" stroke="#000" stroke-width="1.5"/>
<line x1="1103.85" y1="452.20" x2="1103.85" y2="445.00" stroke="#000" stroke-width="1.5"/>
<line x1="1250.85" y1="452.20" x2="1250.85" y2="445.00" stroke="#000" stroke-width="1.5"/>
<line x1="1397.85" y1="452.20" x2="1397.85" y2="445.00" stroke="#000" stroke-width="1.5"/>
<line x1="883.40" y1="429.10" x2="890.60" y2="429.10" stroke="#000" stroke-width="1.5"/>
<line x1="883.40" y1="248.40" x2="890.60" y2="248.40" stroke="#000" stroke-width="1.5"/>
<line x1="883.40" y1="67.70" x2="890.60" y2="67.70" stroke="#000" stroke-width="1.5"/>
<text x="228.10" y="491" font-size="33.6" text-anchor="middle">0.6</text>
<text x="375.12" y="491" font-size="33.6" text-anchor="middle">0.8</text>
<text x="522.14" y="491" font-size="33.6" text-anchor="middle">1.0</text>
<text x="669.16" y="491" font-size="33.6" text-anchor="middle">1.2</text>
<text x="956.85" y="491" font-size="33.6" text-anchor="middle">0.6</text>
<text x="1103.85" y="491" font-size="33.6" text-anchor="middle">0.8</text>
<text x="1250.85" y="491" font-size="33.6" text-anchor="middle">1.0</text>
<text x="1397.85" y="491" font-size="33.6" text-anchor="middle">1.2</text>
<text x="145.95" y="434.90" font-size="33.6" text-anchor="end">0</text>
<text x="145.95" y="266.42" font-size="33.6" text-anchor="end">0.6</text>
<text x="145.95" y="97.94" font-size="33.6" text-anchor="end">1.2</text>
<text x="873.20" y="440.70" font-size="33.6" text-anchor="end">0</text>
<text x="873.20" y="260.00" font-size="33.6" text-anchor="end">0.4</text>
<text x="873.20" y="79.30" font-size="33.6" text-anchor="end">0.8</text>
<line x1="191.30" y1="101.10" x2="236.00" y2="101.10" stroke="#5E81B5" stroke-width="4.8"/>
<text class="it" x="256.50" y="112.60" font-size="35">a</text>
<text x="274.00" y="116.80" font-size="23">i</text>
<line x1="284.40" y1="120.20" x2="295.80" y2="87.80" stroke="#000" stroke-width="1.5"/>
<text class="it" x="298.30" y="112.60" font-size="35">a</text>
<text x="315.00" y="116.80" font-size="24.5">f</text>
<path d="M334.90,103.60 C337.10,96.00 342.40,96.60 345.90,100.40 S354.50,105.20 356.80,97.20" fill="none" stroke="#000" stroke-width="1.6"/>
<line x1="334.90" y1="110.30" x2="357.00" y2="110.30" stroke="#000" stroke-width="1.5"/>
<text x="367.00" y="112.60" font-size="33">1.10</text>
<line x1="191.30" y1="179.60" x2="236.00" y2="179.60" stroke="#EB6235" stroke-width="4.8"/>
<text class="it" x="256.50" y="191.10" font-size="35">a</text>
<text x="274.00" y="195.30" font-size="23">i</text>
<line x1="284.40" y1="198.70" x2="295.80" y2="166.30" stroke="#000" stroke-width="1.5"/>
<text class="it" x="298.30" y="191.10" font-size="35">a</text>
<text x="315.00" y="195.30" font-size="24.5">f</text>
<path d="M334.90,182.10 C337.10,174.50 342.40,175.10 345.90,178.90 S354.50,183.70 356.80,175.70" fill="none" stroke="#000" stroke-width="1.6"/>
<line x1="334.90" y1="188.80" x2="357.00" y2="188.80" stroke="#000" stroke-width="1.5"/>
<text x="367.00" y="191.10" font-size="33">1.07</text>
<line x1="191.30" y1="258.10" x2="236.00" y2="258.10" stroke="#E19C24" stroke-width="4.8"/>
<text class="it" x="256.50" y="269.60" font-size="35">a</text>
<text x="274.00" y="273.80" font-size="23">i</text>
<line x1="284.40" y1="277.20" x2="295.80" y2="244.80" stroke="#000" stroke-width="1.5"/>
<text class="it" x="298.30" y="269.60" font-size="35">a</text>
<text x="315.00" y="273.80" font-size="24.5">f</text>
<path d="M334.90,260.60 C337.10,253.00 342.40,253.60 345.90,257.40 S354.50,262.20 356.80,254.20" fill="none" stroke="#000" stroke-width="1.6"/>
<line x1="334.90" y1="267.30" x2="357.00" y2="267.30" stroke="#000" stroke-width="1.5"/>
<text x="367.00" y="269.60" font-size="33">1.04</text>
<line x1="923.90" y1="101.10" x2="968.60" y2="101.10" stroke="#5E81B5" stroke-width="4.8"/>
<text class="it" x="989.10" y="112.60" font-size="35">a</text>
<text x="1006.60" y="116.80" font-size="23">i</text>
<line x1="1017.00" y1="120.20" x2="1028.40" y2="87.80" stroke="#000" stroke-width="1.5"/>
<text class="it" x="1030.90" y="112.60" font-size="35">a</text>
<text x="1047.60" y="116.80" font-size="24.5">f</text>
<path d="M1067.50,103.60 C1069.70,96.00 1075.00,96.60 1078.50,100.40 S1087.10,105.20 1089.40,97.20" fill="none" stroke="#000" stroke-width="1.6"/>
<line x1="1067.50" y1="110.30" x2="1089.60" y2="110.30" stroke="#000" stroke-width="1.5"/>
<text x="1099.60" y="112.60" font-size="33">1.10</text>
<line x1="923.90" y1="179.60" x2="968.60" y2="179.60" stroke="#EB6235" stroke-width="4.8"/>
<text class="it" x="989.10" y="191.10" font-size="35">a</text>
<text x="1006.60" y="195.30" font-size="23">i</text>
<line x1="1017.00" y1="198.70" x2="1028.40" y2="166.30" stroke="#000" stroke-width="1.5"/>
<text class="it" x="1030.90" y="191.10" font-size="35">a</text>
<text x="1047.60" y="195.30" font-size="24.5">f</text>
<path d="M1067.50,182.10 C1069.70,174.50 1075.00,175.10 1078.50,178.90 S1087.10,183.70 1089.40,175.70" fill="none" stroke="#000" stroke-width="1.6"/>
<line x1="1067.50" y1="188.80" x2="1089.60" y2="188.80" stroke="#000" stroke-width="1.5"/>
<text x="1099.60" y="191.10" font-size="33">1.07</text>
<line x1="923.90" y1="258.10" x2="968.60" y2="258.10" stroke="#E19C24" stroke-width="4.8"/>
<text class="it" x="989.10" y="269.60" font-size="35">a</text>
<text x="1006.60" y="273.80" font-size="23">i</text>
<line x1="1017.00" y1="277.20" x2="1028.40" y2="244.80" stroke="#000" stroke-width="1.5"/>
<text class="it" x="1030.90" y="269.60" font-size="35">a</text>
<text x="1047.60" y="273.80" font-size="24.5">f</text>
<path d="M1067.50,260.60 C1069.70,253.00 1075.00,253.60 1078.50,257.40 S1087.10,262.20 1089.40,254.20" fill="none" stroke="#000" stroke-width="1.6"/>
<line x1="1067.50" y1="267.30" x2="1089.60" y2="267.30" stroke="#000" stroke-width="1.5"/>
<text x="1099.60" y="269.60" font-size="33">1.04</text>
<text x="601.60" y="100.00" font-size="30">k</text><text class="it" x="617.00" y="104.60" font-size="23.5">ξ</text>
<text x="1330.60" y="98.00" font-size="30">k</text><text class="it" x="1346.00" y="102.60" font-size="23.5">ξ</text>
<text x="361.50" y="554.80" font-size="41">k</text>
<path d="M400.20,524.6 H395.10 V564.6 H400.20" fill="none" stroke="#000" stroke-width="1.6"/>
<text class="it" transform="translate(402.80,554.80) scale(1.12,1)" font-size="41">μ</text>
<text transform="translate(426.60,554.80) scale(1.03,1)" font-size="41">m</text>
<line x1="462.00" y1="530.8" x2="479.80" y2="530.8" stroke="#000" stroke-width="1.5"/>
<text x="481.70" y="538.10" font-size="28.5">1</text>
<path d="M499.20,524.6 H504.40 V564.6 H499.20" fill="none" stroke="#000" stroke-width="1.6"/>
<text x="1086.60" y="554.80" font-size="41">k</text>
<path d="M1132.20,524.6 H1127.10 V564.6 H1132.20" fill="none" stroke="#000" stroke-width="1.6"/>
<text class="it" transform="translate(1134.80,554.80) scale(1.12,1)" font-size="41">μ</text>
<text transform="translate(1158.60,554.80) scale(1.03,1)" font-size="41">m</text>
<line x1="1194.00" y1="530.8" x2="1211.80" y2="530.8" stroke="#000" stroke-width="1.5"/>
<text x="1213.70" y="538.10" font-size="28.5">1</text>
<path d="M1231.20,524.6 H1236.40 V564.6 H1231.20" fill="none" stroke="#000" stroke-width="1.6"/>
<g transform="translate(66.9,290.5) rotate(-90)"><line x1="1" y1="-30.6" x2="1" y2="10.2" stroke="#000" stroke-width="1.6"/><text class="it" transform="translate(9.6,0.1) scale(1.02,1.08)" font-size="41">β</text><text x="30.5" y="7.6" font-size="28.5">k</text><line x1="52.6" y1="-30.6" x2="52.6" y2="10.2" stroke="#000" stroke-width="1.6"/><text x="59.5" y="-16.8" font-size="28.5">2</text></g>
<g transform="translate(796.4,290.0) rotate(-90)"><text x="0" y="0" font-size="42">L</text><text x="23.5" y="0" font-size="42">N</text><text x="53.8" y="7.2" font-size="29">k</text></g>
</svg></body></html>
